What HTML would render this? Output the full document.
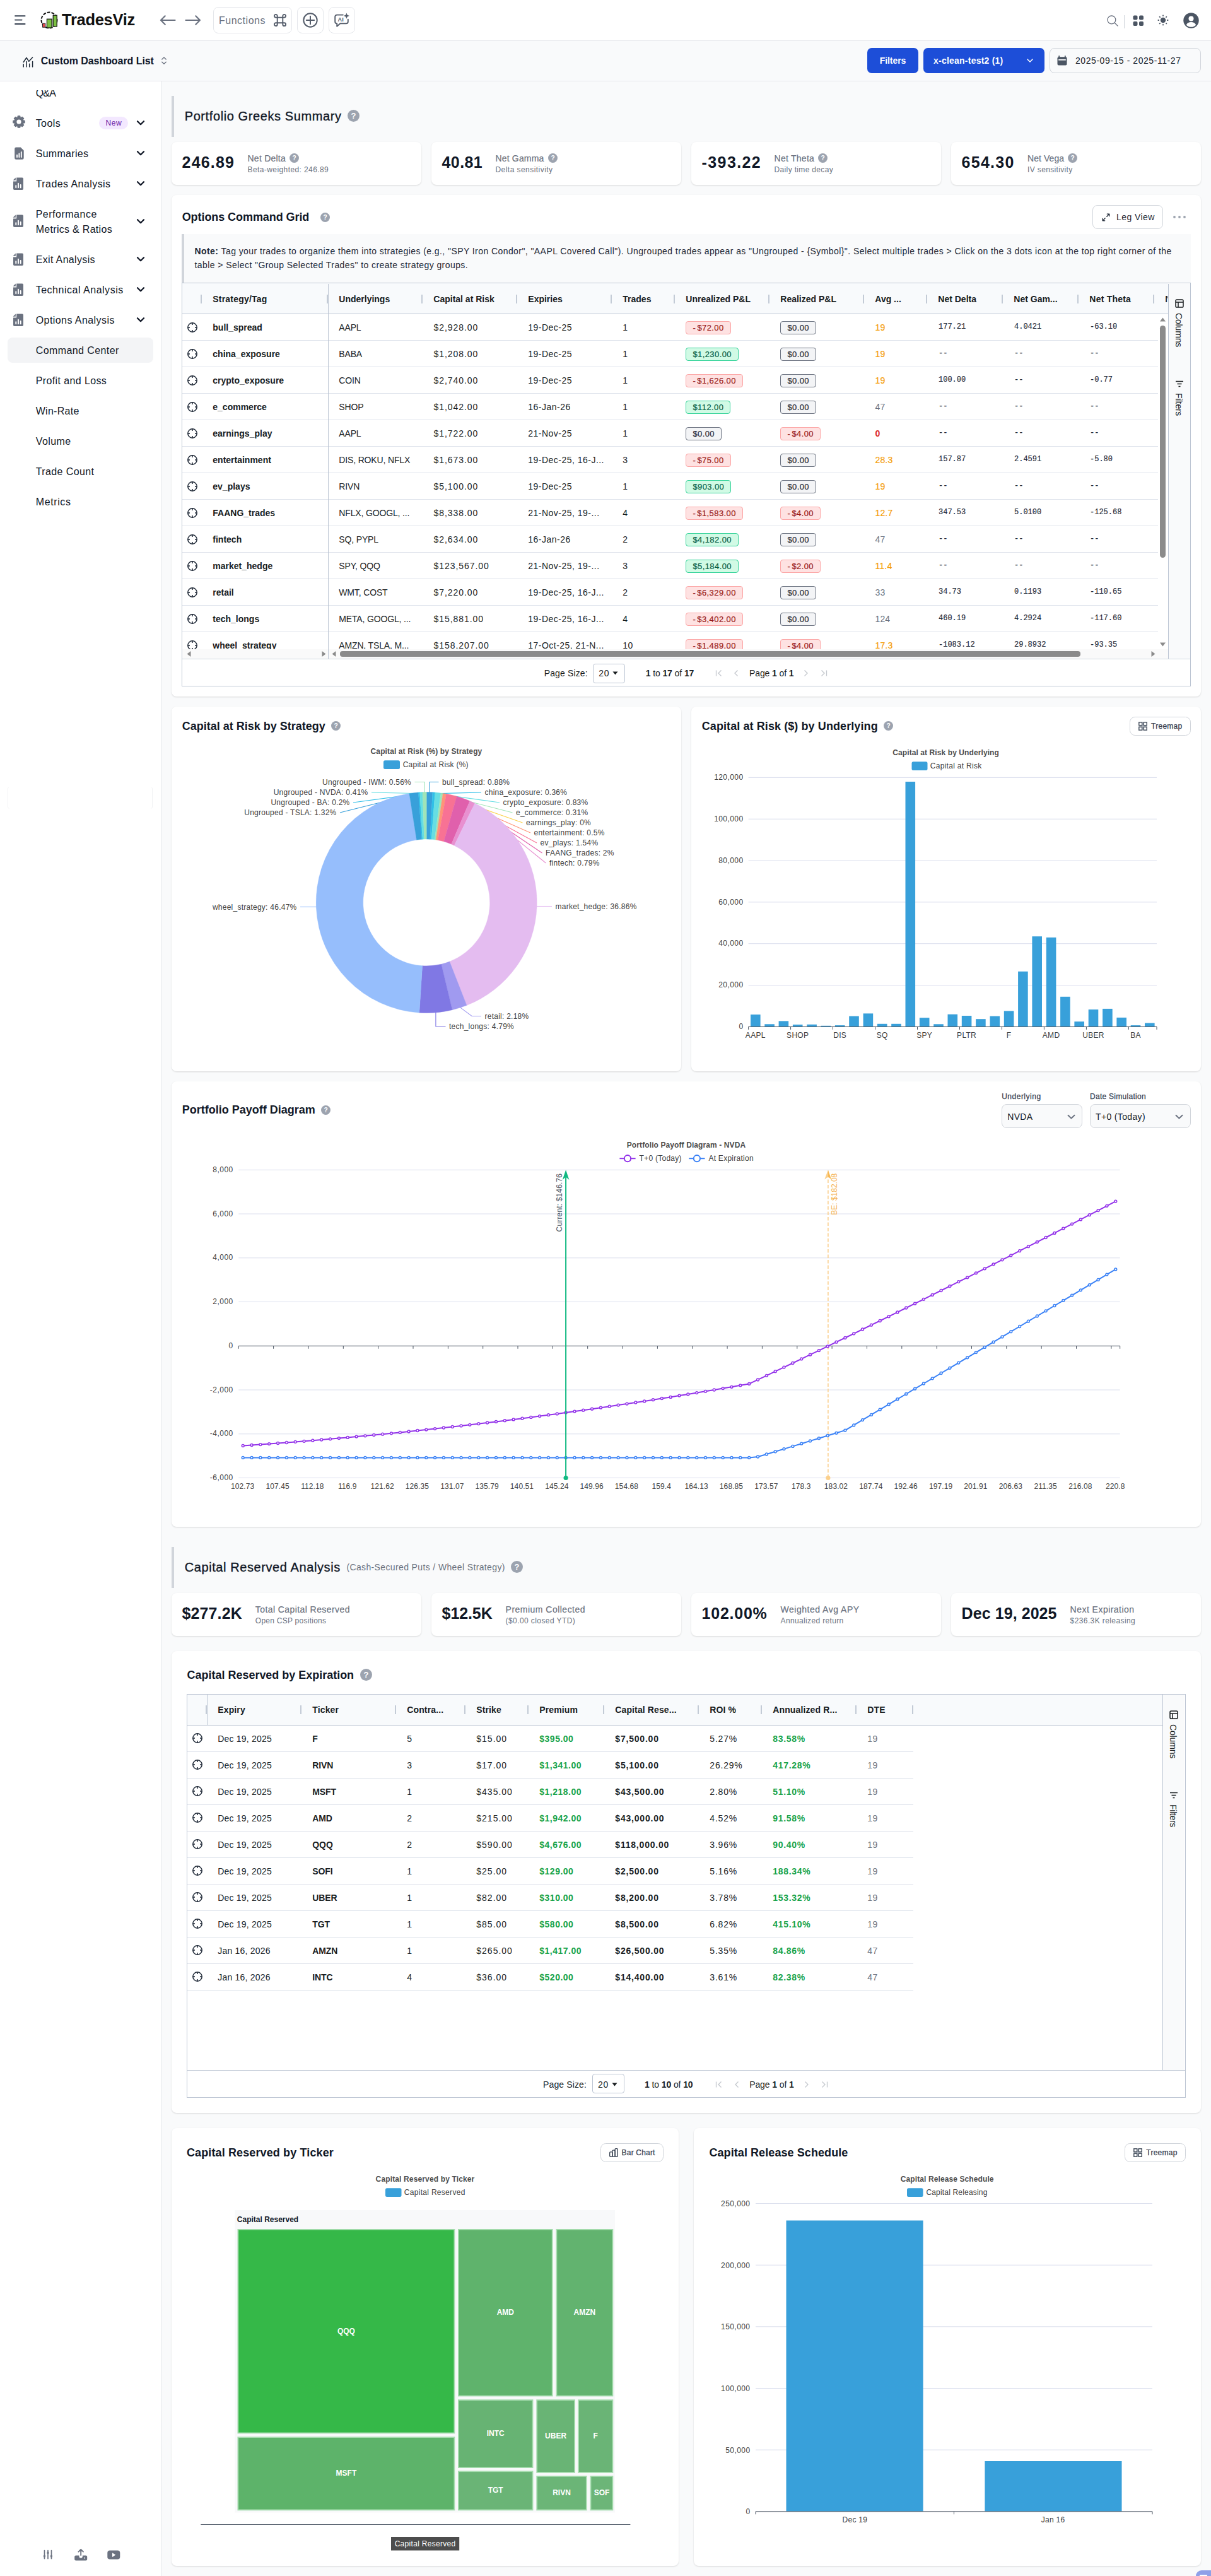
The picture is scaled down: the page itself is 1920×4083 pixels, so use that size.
<!DOCTYPE html>
<html lang="en"><head><meta charset="utf-8"><title>TradesViz - Options Command Center</title>
<style>
html,body{margin:0;padding:0}
body{width:1920px;height:4083px;position:relative;overflow:hidden;background:#f9fafb;font-family:"Liberation Sans",sans-serif;color:#111827;-webkit-font-smoothing:antialiased}
.t{position:absolute;white-space:nowrap;margin:0}
b{font-weight:bold}
svg{overflow:visible}
svg text{font-family:"Liberation Sans",sans-serif}
</style></head>
<body>
<div style="position:absolute;left:0.0px;top:0.0px;width:1920.0px;height:65.0px;background:#fff;border-bottom:1px solid #e5e7eb;box-sizing:border-box;"></div>
<svg style="position:absolute;left:22.0px;top:22.0px;" width="20" height="20" viewBox="0 0 20 20"><path d="M2 3.2h15.6M2 9.6h10.6M2 16h15.6" stroke="#374151" stroke-width="1.9" stroke-linecap="round" fill="none"/></svg>
<svg style="position:absolute;left:63.0px;top:16.6px;" width="30" height="30" viewBox="0 0 30 30"><circle cx="15" cy="15" r="12.500" fill="#fff" stroke="#111" stroke-width="2" stroke-dasharray="4.800 2.100"/><rect x="4.600" y="20.200" width="4.200" height="6" fill="#e5484d" stroke="#111" stroke-width="0.900"/><rect x="11.400" y="13.200" width="7.700" height="13.800" fill="#7cc142" stroke="#111" stroke-width="1.200"/><rect x="21.200" y="7.200" width="6" height="17.800" fill="#7cc142" stroke="#111" stroke-width="1.200"/></svg>
<div class="t" style="top:16.2px;line-height:30px;font-size:25.5px;font-weight:bold;color:#111;letter-spacing:-0.29px;left:98.0px;">TradesViz</div>
<svg style="position:absolute;left:252.0px;top:20.0px;" width="28" height="24" viewBox="0 0 28 24"><path d="M25.500 12H3M9.700 5.300L3 12l6.700 6.700" stroke="#6b7280" stroke-width="2.200" fill="none" stroke-linecap="round" stroke-linejoin="round"/></svg>
<svg style="position:absolute;left:292.0px;top:20.0px;" width="28" height="24" viewBox="0 0 28 24"><path d="M2.500 12H25M18.300 5.300L25 12l-6.700 6.700" stroke="#6b7280" stroke-width="2.200" fill="none" stroke-linecap="round" stroke-linejoin="round"/></svg>
<div style="position:absolute;left:338.0px;top:11.0px;width:125.0px;height:42.0px;border:1px solid #e5e7eb;border-radius:8px;box-sizing:border-box;background:#fff;"></div>
<div class="t" style="top:22.5px;line-height:20px;font-size:16px;color:#6b7280;letter-spacing:0.51px;left:347.0px;">Functions</div>
<svg style="position:absolute;left:434.0px;top:22.0px;" width="20" height="20" viewBox="0 0 20 20"><path d="M5.700 3.300a2.400 2.400 0 1 0-2.400 2.400H16.700a2.400 2.400 0 1 0-2.400-2.400V16.700a2.400 2.400 0 1 0 2.400-2.400H3.300a2.400 2.400 0 1 0 2.400 2.400Z" fill="none" stroke="#555d6b" stroke-width="1.900" stroke-linejoin="round"/></svg>
<div style="position:absolute;left:471.0px;top:11.0px;width:42.0px;height:42.0px;border:1px solid #e5e7eb;border-radius:8px;box-sizing:border-box;background:#fff;"></div>
<svg style="position:absolute;left:480.0px;top:19.8px;" width="24" height="24" viewBox="0 0 24 24"><circle cx="12" cy="12" r="10.700" fill="none" stroke="#555d6b" stroke-width="2"/><path d="M12 5.800v12.400M5.800 12h12.400" stroke="#555d6b" stroke-width="2" stroke-linecap="round"/></svg>
<div style="position:absolute;left:521.0px;top:11.0px;width:42.0px;height:42.0px;border:1px solid #e5e7eb;border-radius:8px;box-sizing:border-box;background:#fff;"></div>
<svg style="position:absolute;left:529.0px;top:20.0px;" width="26" height="26" viewBox="0 0 26 26"><path d="M14.800 3.600H5.200A3 3 0 0 0 2.200 6.600V14.300A3 3 0 0 0 5.200 17.300V21.700L10.400 17.300H19.800A3 3 0 0 0 22.800 14.300V10.600" fill="none" stroke="#555d6b" stroke-width="1.900" stroke-linejoin="round" stroke-linecap="round"/><path d="M20.400 0.400l1.300 3.400 3.400 1.300-3.400 1.300-1.300 3.400-1.300-3.400-3.400-1.300 3.400-1.300z" fill="#555d6b"/><text x="11.100" y="14.400" text-anchor="middle" font-family="Liberation Sans, sans-serif" font-weight="bold" font-size="9.200" fill="#555d6b">AI</text></svg>
<svg style="position:absolute;left:1754.5px;top:23.5px;" width="20" height="20" viewBox="0 0 20 20"><circle cx="7.400" cy="7.400" r="6.400" fill="none" stroke="#6b7280" stroke-width="1.300"/><path d="M12.300 12.300L17 17" stroke="#6b7280" stroke-width="1.300" stroke-linecap="round"/></svg>
<div style="position:absolute;left:1782.0px;top:24.0px;width:1.0px;height:21.0px;background:#d1d5db;"></div>
<svg style="position:absolute;left:1795.5px;top:23.5px;" width="18" height="18" viewBox="0 0 18 18"><g fill="#4b5563"><rect x="0.500" y="0.500" width="7" height="7" rx="2"/><rect x="10" y="0.500" width="7" height="7" rx="2"/><rect x="0.500" y="10" width="7" height="7" rx="2"/><rect x="10" y="10" width="7" height="7" rx="2"/></g></svg>
<svg style="position:absolute;left:1834.2px;top:22.0px;" width="20" height="20" viewBox="0 0 20 20"><circle cx="10" cy="10" r="4.200" fill="#4b5563"/><g stroke="#4b5563" stroke-width="1.800" stroke-linecap="round"><path d="M16.90 10.00L17.60 10.00"/><path d="M14.88 14.88L15.37 15.37"/><path d="M10.00 16.90L10.00 17.60"/><path d="M5.12 14.88L4.63 15.37"/><path d="M3.10 10.00L2.40 10.00"/><path d="M5.12 5.12L4.63 4.63"/><path d="M10.00 3.10L10.00 2.40"/><path d="M14.88 5.12L15.37 4.63"/></g></svg>
<svg style="position:absolute;left:1875.5px;top:19.5px;" width="25" height="25" viewBox="0 0 25 25"><circle cx="12.500" cy="12.500" r="12.200" fill="#4b5563"/><circle cx="12.500" cy="9.600" r="4" fill="#fff"/><path d="M4.800 19.400c1.600-3 4.400-4.300 7.700-4.300s6.100 1.300 7.700 4.300a10.300 10.300 0 0 1-15.400 0z" fill="#fff"/></svg>
<div style="position:absolute;left:0.0px;top:65.0px;width:1920.0px;height:64.0px;background:#f9fafb;border-bottom:1px solid #e5e7eb;box-sizing:border-box;"></div>
<svg style="position:absolute;left:35.5px;top:89.5px;" width="17" height="17" viewBox="0 0 17 17"><g stroke="#1f2937" stroke-width="1.500" fill="none" stroke-linecap="round" stroke-linejoin="round"><path d="M1.200 8.500L6 1.500 9.800 7.300 15.600 1"/><path d="M1.200 11.800v4.100M6 7.600v8.300M10.700 11.200v4.700M15.600 7.600v8.300"/></g></svg>
<div class="t" style="top:87.0px;line-height:20px;font-size:16px;font-weight:bold;color:#0f172a;letter-spacing:-0.06px;left:64.7px;">Custom Dashboard List</div>
<svg style="position:absolute;left:254.0px;top:89.0px;" width="12" height="15" viewBox="0 0 12 15"><path d="M2.800 5L6 2l3.200 3M2.800 9.200L6 12.200l3.200-3" stroke="#6b7280" stroke-width="1.400" fill="none" stroke-linecap="round" stroke-linejoin="round"/></svg>
<div style="position:absolute;left:1375.0px;top:76.0px;width:81.0px;height:40.0px;background:#1d4ed8;border-radius:7px;"></div>
<div class="t" style="top:86.0px;line-height:20px;font-size:14px;font-weight:bold;color:#fff;letter-spacing:-0.07px;left:1415.5px;transform:translateX(-50%);">Filters</div>
<div style="position:absolute;left:1464.0px;top:76.0px;width:192.0px;height:40.0px;background:#1d4ed8;border-radius:7px;"></div>
<div class="t" style="top:86.0px;line-height:20px;font-size:14px;font-weight:bold;color:#fff;letter-spacing:0.23px;left:1480.0px;">x-clean-test2 (1)</div>
<svg style="position:absolute;left:1626.0px;top:90.0px;" width="14" height="12" viewBox="0 0 14 12"><path d="M3 4l4 4 4-4" stroke="#fff" stroke-width="1.500" fill="none" stroke-linecap="round" stroke-linejoin="round"/></svg>
<div style="position:absolute;left:1664.0px;top:76.0px;width:240.0px;height:40.0px;background:#f9fafb;border:1px solid #d1d5db;border-radius:8px;box-sizing:border-box;"></div>
<svg style="position:absolute;left:1675.5px;top:87.5px;" width="16" height="16" viewBox="0 0 16 16"><path d="M3.200 0.800v2M12.800 0.800v2" stroke="#4b5563" stroke-width="1.800" stroke-linecap="round"/><rect x="0.500" y="2.200" width="15" height="13.300" rx="2" fill="#4b5563"/><rect x="2.200" y="6" width="11.600" height="1.700" fill="#f9fafb"/></svg>
<div class="t" style="top:86.0px;line-height:20px;font-size:14px;letter-spacing:0.56px;left:1705.0px;">2025-09-15 - 2025-11-27</div>
<div style="position:absolute;left:0.0px;top:129.0px;width:256.0px;height:3954.0px;background:#fff;border-right:1px solid #e5e7eb;box-sizing:border-box;"></div>
<div style="position:absolute;left:0.0px;top:142.6px;width:255.0px;height:20.0px;overflow:hidden;"><div class="t" style="top:-4.8px;line-height:20px;font-size:16px;letter-spacing:-0.76px;left:56.7px;">Q&amp;A</div></div>
<svg style="position:absolute;left:19.8px;top:183.0px;" width="20" height="20" viewBox="0 0 20 20"><polygon points="16.75,7.81 19.14,8.26 19.14,11.74 16.75,12.19 16.33,13.22 17.69,15.23 15.23,17.69 13.22,16.33 12.19,16.75 11.74,19.14 8.26,19.14 7.81,16.75 6.78,16.33 4.77,17.69 2.31,15.23 3.67,13.22 3.25,12.19 0.86,11.74 0.86,8.26 3.25,7.81 3.67,6.78 2.31,4.77 4.77,2.31 6.78,3.67 7.81,3.25 8.26,0.86 11.74,0.86 12.19,3.25 13.22,3.67 15.23,2.31 17.69,4.77 16.33,6.78" fill="#6b7280" stroke="#6b7280" stroke-width="1.200" stroke-linejoin="round"/><circle cx="10" cy="10" r="3.600" fill="#fff"/></svg>
<div class="t" style="top:185.5px;line-height:20px;font-size:16px;letter-spacing:0.43px;left:56.7px;">Tools</div>
<svg style="position:absolute;left:216.3px;top:189.5px;" width="14" height="10" viewBox="0 0 14 10"><path d="M2 2.300L7 7.300l5-5" stroke="#111827" stroke-width="2.300" fill="none" stroke-linecap="round" stroke-linejoin="round"/></svg>
<svg style="position:absolute;left:21.5px;top:232.8px;" width="17" height="20" viewBox="0 0 17 20"><path d="M1.200 2.800a2.300 2.300 0 0 1 2.300-2.300h7.200l5 5v12a2.300 2.300 0 0 1-2.300 2.300H3.500a2.300 2.300 0 0 1-2.300-2.300z" fill="#6b7280"/><g stroke="#fff" stroke-width="1.900" stroke-linecap="round"><path d="M5 16v-3.200M8.400 16v-5.600M11.800 16v-8"/></g></svg>
<div class="t" style="top:234.3px;line-height:20px;font-size:16px;letter-spacing:0.29px;left:56.7px;">Summaries</div>
<svg style="position:absolute;left:216.3px;top:238.3px;" width="14" height="10" viewBox="0 0 14 10"><path d="M2 2.300L7 7.300l5-5" stroke="#111827" stroke-width="2.300" fill="none" stroke-linecap="round" stroke-linejoin="round"/></svg>
<svg style="position:absolute;left:20.0px;top:280.7px;" width="18" height="21" viewBox="0 0 18 21"><path d="M6.200 0.500h9a1.800 1.800 0 0 1 1.800 1.800v16a1.800 1.800 0 0 1-1.800 1.800H2.800a1.800 1.800 0 0 1-1.800-1.800V6.500h5.200z" fill="#6b7280"/><path d="M0.600 4.800L4.800 0.500v4.300z" fill="#6b7280"/><g stroke="#fff" stroke-width="1.900" stroke-linecap="round"><path d="M5.300 16.300v-3.200M9 16.300v-6.500M12.700 16.300v-4.300"/></g></svg>
<div class="t" style="top:282.3px;line-height:20px;font-size:16px;letter-spacing:0.43px;left:56.7px;">Trades Analysis</div>
<svg style="position:absolute;left:216.3px;top:286.3px;" width="14" height="10" viewBox="0 0 14 10"><path d="M2 2.300L7 7.300l5-5" stroke="#111827" stroke-width="2.300" fill="none" stroke-linecap="round" stroke-linejoin="round"/></svg>
<svg style="position:absolute;left:20.0px;top:340.4px;" width="18" height="21" viewBox="0 0 18 21"><path d="M6.200 0.500h9a1.800 1.800 0 0 1 1.800 1.800v16a1.800 1.800 0 0 1-1.800 1.800H2.800a1.800 1.800 0 0 1-1.800-1.800V6.500h5.200z" fill="#6b7280"/><path d="M0.600 4.800L4.800 0.500v4.300z" fill="#6b7280"/><g stroke="#fff" stroke-width="1.900" stroke-linecap="round"><path d="M5.300 16.300v-3.200M9 16.300v-6.500M12.700 16.300v-4.300"/></g></svg>
<div class="t" style="top:330.2px;line-height:20px;font-size:16px;letter-spacing:0.50px;left:56.7px;">Performance</div>
<div class="t" style="top:354.0px;line-height:20px;font-size:16px;letter-spacing:0.30px;left:56.7px;">Metrics &amp; Ratios</div>
<svg style="position:absolute;left:216.3px;top:345.5px;" width="14" height="10" viewBox="0 0 14 10"><path d="M2 2.300L7 7.300l5-5" stroke="#111827" stroke-width="2.300" fill="none" stroke-linecap="round" stroke-linejoin="round"/></svg>
<svg style="position:absolute;left:20.0px;top:400.7px;" width="18" height="21" viewBox="0 0 18 21"><path d="M6.200 0.500h9a1.800 1.800 0 0 1 1.800 1.800v16a1.800 1.800 0 0 1-1.800 1.800H2.800a1.800 1.800 0 0 1-1.800-1.800V6.500h5.200z" fill="#6b7280"/><path d="M0.600 4.800L4.800 0.500v4.300z" fill="#6b7280"/><g stroke="#fff" stroke-width="1.900" stroke-linecap="round"><path d="M5.300 16.300v-3.200M9 16.300v-6.500M12.700 16.300v-4.300"/></g></svg>
<div class="t" style="top:402.3px;line-height:20px;font-size:16px;letter-spacing:0.34px;left:56.7px;">Exit Analysis</div>
<svg style="position:absolute;left:216.3px;top:406.3px;" width="14" height="10" viewBox="0 0 14 10"><path d="M2 2.300L7 7.300l5-5" stroke="#111827" stroke-width="2.300" fill="none" stroke-linecap="round" stroke-linejoin="round"/></svg>
<svg style="position:absolute;left:20.0px;top:448.7px;" width="18" height="21" viewBox="0 0 18 21"><path d="M6.200 0.500h9a1.800 1.800 0 0 1 1.800 1.800v16a1.800 1.800 0 0 1-1.800 1.800H2.800a1.800 1.800 0 0 1-1.800-1.800V6.500h5.200z" fill="#6b7280"/><path d="M0.600 4.800L4.800 0.500v4.300z" fill="#6b7280"/><g stroke="#fff" stroke-width="1.900" stroke-linecap="round"><path d="M5.300 16.300v-3.200M9 16.300v-6.500M12.700 16.300v-4.300"/></g></svg>
<div class="t" style="top:450.3px;line-height:20px;font-size:16px;letter-spacing:0.51px;left:56.7px;">Technical Analysis</div>
<svg style="position:absolute;left:216.3px;top:454.3px;" width="14" height="10" viewBox="0 0 14 10"><path d="M2 2.300L7 7.300l5-5" stroke="#111827" stroke-width="2.300" fill="none" stroke-linecap="round" stroke-linejoin="round"/></svg>
<svg style="position:absolute;left:20.0px;top:496.7px;" width="18" height="21" viewBox="0 0 18 21"><path d="M6.200 0.500h9a1.800 1.800 0 0 1 1.800 1.800v16a1.800 1.800 0 0 1-1.800 1.800H2.800a1.800 1.800 0 0 1-1.800-1.800V6.500h5.200z" fill="#6b7280"/><path d="M0.600 4.800L4.800 0.500v4.300z" fill="#6b7280"/><g stroke="#fff" stroke-width="1.900" stroke-linecap="round"><path d="M5.300 16.300v-3.200M9 16.300v-6.500M12.700 16.300v-4.300"/></g></svg>
<div class="t" style="top:498.3px;line-height:20px;font-size:16px;letter-spacing:0.43px;left:56.7px;">Options Analysis</div>
<svg style="position:absolute;left:216.3px;top:502.3px;" width="14" height="10" viewBox="0 0 14 10"><path d="M2 2.300L7 7.300l5-5" stroke="#111827" stroke-width="2.300" fill="none" stroke-linecap="round" stroke-linejoin="round"/></svg>
<div style="position:absolute;left:157.0px;top:185.0px;width:46.0px;height:20.0px;background:#f3e8ff;border-radius:10px;"></div>
<div class="t" style="top:185.0px;line-height:20px;font-size:12px;color:#6b21a8;letter-spacing:0.60px;left:180.3px;transform:translateX(-50%);font-weight:normal;">New</div>
<div style="position:absolute;left:12.0px;top:535.0px;width:231.0px;height:40.0px;background:#f3f4f6;border-radius:8px;"></div>
<div class="t" style="top:546.2px;line-height:20px;font-size:16px;letter-spacing:0.41px;left:56.7px;">Command Center</div>
<div class="t" style="top:594.2px;line-height:20px;font-size:16px;letter-spacing:0.39px;left:56.7px;">Profit and Loss</div>
<div class="t" style="top:642.1px;line-height:20px;font-size:16px;letter-spacing:0.29px;left:56.7px;">Win-Rate</div>
<div class="t" style="top:690.1px;line-height:20px;font-size:16px;letter-spacing:0.42px;left:56.7px;">Volume</div>
<div class="t" style="top:738.0px;line-height:20px;font-size:16px;letter-spacing:0.40px;left:56.7px;">Trade Count</div>
<div class="t" style="top:786.0px;line-height:20px;font-size:16px;letter-spacing:0.62px;left:56.7px;">Metrics</div>
<div style="position:absolute;left:12.0px;top:1247.0px;width:230.0px;height:35.0px;border-left:1px solid #f1f2f4;border-right:1px solid #f1f2f4;border-radius:4px;box-sizing:border-box;"></div>
<svg style="position:absolute;left:68.0px;top:4041.0px;" width="16" height="16" viewBox="0 0 16 16"><g stroke="#6b7280" stroke-width="1.700" stroke-linecap="round"><path d="M2.500 1.500v13M8 1.500v13M13.500 1.500v13"/></g><g fill="#6b7280"><rect x="1" y="9" width="3" height="3.400" rx="0.800"/><rect x="6.500" y="3.600" width="3" height="3.400" rx="0.800"/><rect x="12" y="9" width="3" height="3.400" rx="0.800"/></g></svg>
<svg style="position:absolute;left:117.5px;top:4039.0px;" width="21" height="20" viewBox="0 0 21 20"><path d="M10.200 11V2.200M6.400 5.600l3.800-3.800 3.800 3.800" stroke="#6b7280" stroke-width="1.900" fill="none" stroke-linecap="round" stroke-linejoin="round"/><path d="M2.200 11.500h5.300v1.200a2.700 2.700 0 0 0 5.400 0v-1.200h5.300a2 2 0 0 1 2 2v4a2 2 0 0 1-2 2h-16a2 2 0 0 1-2-2v-4a2 2 0 0 1 2-2z" fill="#6b7280"/><circle cx="16" cy="15.600" r="1" fill="#fff"/></svg>
<svg style="position:absolute;left:169.8px;top:4041.5px;" width="21" height="15" viewBox="0 0 21 15"><rect x="0.300" y="0.600" width="20" height="14" rx="3.800" fill="#6b7280"/><path d="M8 4.300l5.400 3.300L8 10.900z" fill="#fff"/></svg>
<div style="position:absolute;left:272.0px;top:152.0px;width:4.0px;height:65.0px;background:#d1d5db;"></div>
<div class="t" style="top:169.5px;line-height:28px;font-size:20px;letter-spacing:0.60px;left:292.7px;-webkit-text-stroke:0.35px #111827;">Portfolio Greeks Summary</div>
<svg style="position:absolute;left:550.7px;top:174.3px;" width="19" height="19" viewBox="0 0 19 19"><circle cx="9.5" cy="9.5" r="9.5" fill="#9ca3af"/><text x="9.5" y="14.15" text-anchor="middle" font-family="Liberation Sans, sans-serif" font-weight="bold" font-size="12.9" fill="#fff">?</text></svg>
<div style="position:absolute;left:272.0px;top:225.0px;width:396.0px;height:68.0px;background:#fff;border-radius:8px;box-shadow:0 1px 3px rgba(0,0,0,.09),0 1px 2px rgba(0,0,0,.05);"></div>
<div class="t" style="top:241.3px;line-height:32px;font-size:25px;font-weight:bold;letter-spacing:1.16px;left:288.6px;">246.89</div>
<div class="t" style="top:241.0px;line-height:20px;font-size:14px;color:#6b7280;letter-spacing:0.24px;left:392.5px;-webkit-text-stroke:0.2px #6b7280;">Net Delta</div>
<svg style="position:absolute;left:459.0px;top:243.1px;" width="15" height="15" viewBox="0 0 15 15"><circle cx="7.5" cy="7.5" r="7.5" fill="#9ca3af"/><text x="7.5" y="11.17" text-anchor="middle" font-family="Liberation Sans, sans-serif" font-weight="bold" font-size="10.2" fill="#fff">?</text></svg>
<div class="t" style="top:261.0px;line-height:16px;font-size:12px;color:#6b7280;letter-spacing:0.41px;left:392.5px;">Beta-weighted: 246.89</div>
<div style="position:absolute;left:684.0px;top:225.0px;width:396.0px;height:68.0px;background:#fff;border-radius:8px;box-shadow:0 1px 3px rgba(0,0,0,.09),0 1px 2px rgba(0,0,0,.05);"></div>
<div class="t" style="top:241.3px;line-height:32px;font-size:25px;font-weight:bold;letter-spacing:0.37px;left:700.6px;">40.81</div>
<div class="t" style="top:241.0px;line-height:20px;font-size:14px;color:#6b7280;letter-spacing:0.17px;left:785.5px;-webkit-text-stroke:0.2px #6b7280;">Net Gamma</div>
<svg style="position:absolute;left:868.5px;top:243.1px;" width="15" height="15" viewBox="0 0 15 15"><circle cx="7.5" cy="7.5" r="7.5" fill="#9ca3af"/><text x="7.5" y="11.17" text-anchor="middle" font-family="Liberation Sans, sans-serif" font-weight="bold" font-size="10.2" fill="#fff">?</text></svg>
<div class="t" style="top:261.0px;line-height:16px;font-size:12px;color:#6b7280;letter-spacing:0.45px;left:785.5px;">Delta sensitivity</div>
<div style="position:absolute;left:1096.0px;top:225.0px;width:396.0px;height:68.0px;background:#fff;border-radius:8px;box-shadow:0 1px 3px rgba(0,0,0,.09),0 1px 2px rgba(0,0,0,.05);"></div>
<div class="t" style="top:241.3px;line-height:32px;font-size:25px;font-weight:bold;letter-spacing:1.39px;left:1112.6px;">-393.22</div>
<div class="t" style="top:241.0px;line-height:20px;font-size:14px;color:#6b7280;letter-spacing:0.25px;left:1227.6px;-webkit-text-stroke:0.2px #6b7280;">Net Theta</div>
<svg style="position:absolute;left:1297.1px;top:243.1px;" width="15" height="15" viewBox="0 0 15 15"><circle cx="7.5" cy="7.5" r="7.5" fill="#9ca3af"/><text x="7.5" y="11.17" text-anchor="middle" font-family="Liberation Sans, sans-serif" font-weight="bold" font-size="10.2" fill="#fff">?</text></svg>
<div class="t" style="top:261.0px;line-height:16px;font-size:12px;color:#6b7280;letter-spacing:0.34px;left:1227.6px;">Daily time decay</div>
<div style="position:absolute;left:1508.0px;top:225.0px;width:396.0px;height:68.0px;background:#fff;border-radius:8px;box-shadow:0 1px 3px rgba(0,0,0,.09),0 1px 2px rgba(0,0,0,.05);"></div>
<div class="t" style="top:241.3px;line-height:32px;font-size:25px;font-weight:bold;letter-spacing:1.26px;left:1524.6px;">654.30</div>
<div class="t" style="top:241.0px;line-height:20px;font-size:14px;color:#6b7280;letter-spacing:0.05px;left:1629.1px;-webkit-text-stroke:0.2px #6b7280;">Net Vega</div>
<svg style="position:absolute;left:1693.1px;top:243.1px;" width="15" height="15" viewBox="0 0 15 15"><circle cx="7.5" cy="7.5" r="7.5" fill="#9ca3af"/><text x="7.5" y="11.17" text-anchor="middle" font-family="Liberation Sans, sans-serif" font-weight="bold" font-size="10.2" fill="#fff">?</text></svg>
<div class="t" style="top:261.0px;line-height:16px;font-size:12px;color:#6b7280;letter-spacing:0.34px;left:1629.1px;">IV sensitivity</div>
<div style="position:absolute;left:272.0px;top:309.0px;width:1632.0px;height:795.0px;background:#fff;border-radius:8px;box-shadow:0 1px 3px rgba(0,0,0,.09),0 1px 2px rgba(0,0,0,.05);"></div>
<div class="t" style="top:329.5px;line-height:28px;font-size:18px;font-weight:bold;letter-spacing:-0.07px;left:288.7px;">Options Command Grid</div>
<svg style="position:absolute;left:507.7px;top:336.5px;" width="15" height="15" viewBox="0 0 15 15"><circle cx="7.5" cy="7.5" r="7.5" fill="#9ca3af"/><text x="7.5" y="11.17" text-anchor="middle" font-family="Liberation Sans, sans-serif" font-weight="bold" font-size="10.2" fill="#fff">?</text></svg>
<div style="position:absolute;left:1732.0px;top:325.3px;width:112.0px;height:37.3px;border:1px solid #d1d5db;border-radius:8px;box-sizing:border-box;background:#fff;"></div>
<svg style="position:absolute;left:1746.5px;top:337.5px;" width="13" height="13" viewBox="0 0 13 13"><g stroke="#1f2937" stroke-width="1.300" fill="none" stroke-linecap="round" stroke-linejoin="round"><path d="M7.800 5.200L11.800 1.200M8.300 1.200h3.500v3.500M5.200 7.800L1.200 11.800M4.700 11.800H1.200V8.300"/></g></svg>
<div class="t" style="top:334.0px;line-height:20px;font-size:14px;color:#1f2937;letter-spacing:0.42px;left:1770.0px;">Leg View</div>
<svg style="position:absolute;left:1859.0px;top:341.0px;" width="22" height="6" viewBox="0 0 22 6"><g fill="#9ca3af"><circle cx="3" cy="3" r="1.900"/><circle cx="11" cy="3" r="1.900"/><circle cx="19" cy="3" r="1.900"/></g></svg>
<div style="position:absolute;left:288.0px;top:371.3px;width:1600.0px;height:77.2px;background:#f9fafb;border-left:4px solid #d1d5db;box-sizing:border-box;"></div>
<div class="t" style="top:388.0px;line-height:20px;font-size:14px;color:#1f2937;letter-spacing:0.43px;left:308.5px;"><b>Note:</b> Tag your trades to organize them into strategies (e.g., "SPY Iron Condor", "AAPL Covered Call"). Ungrouped trades appear as "Ungrouped - {Symbol}". Select multiple trades &gt; Click on the 3 dots icon at the top right corner of the</div>
<div class="t" style="top:410.3px;line-height:20px;font-size:14px;color:#1f2937;letter-spacing:0.43px;left:308.5px;">table &gt; Select "Group Selected Trades" to create strategy groups.</div>
<div style="position:absolute;left:288.0px;top:448.4px;width:1600.0px;height:639.6px;border:1px solid #bcc5d3;box-sizing:border-box;background:#fff;"></div>
<div style="position:absolute;left:289.0px;top:449.4px;width:1562.5px;height:48.6px;background:#f8fafc;border-bottom:1px solid #bcc5d3;box-sizing:border-box;"></div>
<div class="t" style="top:464.3px;line-height:20px;font-size:14px;font-weight:bold;color:#181d1f;letter-spacing:0.20px;left:337.3px;">Strategy/Tag</div>
<div class="t" style="top:464.3px;line-height:20px;font-size:14px;font-weight:bold;color:#181d1f;left:537.3px;">Underlyings</div>
<div class="t" style="top:464.3px;line-height:20px;font-size:14px;font-weight:bold;color:#181d1f;left:687.3px;">Capital at Risk</div>
<div class="t" style="top:464.3px;line-height:20px;font-size:14px;font-weight:bold;color:#181d1f;left:837.3px;">Expiries</div>
<div class="t" style="top:464.3px;line-height:20px;font-size:14px;font-weight:bold;color:#181d1f;left:987.3px;">Trades</div>
<div class="t" style="top:464.3px;line-height:20px;font-size:14px;font-weight:bold;color:#181d1f;left:1087.3px;">Unrealized P&amp;L</div>
<div class="t" style="top:464.3px;line-height:20px;font-size:14px;font-weight:bold;color:#181d1f;left:1237.3px;">Realized P&amp;L</div>
<div class="t" style="top:464.3px;line-height:20px;font-size:14px;font-weight:bold;color:#181d1f;left:1387.3px;">Avg ...</div>
<div class="t" style="top:464.3px;line-height:20px;font-size:14px;font-weight:bold;color:#181d1f;left:1487.3px;">Net Delta</div>
<div class="t" style="top:464.3px;line-height:20px;font-size:14px;font-weight:bold;color:#181d1f;left:1607.3px;">Net Gam...</div>
<div class="t" style="top:464.3px;line-height:20px;font-size:14px;font-weight:bold;color:#181d1f;letter-spacing:0.22px;left:1727.3px;">Net Theta</div>
<div style="position:absolute;left:318.0px;top:467.0px;width:2.0px;height:14.0px;background:#c3cbd6;"></div>
<div style="position:absolute;left:518.0px;top:467.0px;width:2.0px;height:14.0px;background:#c3cbd6;"></div>
<div style="position:absolute;left:668.0px;top:467.0px;width:2.0px;height:14.0px;background:#c3cbd6;"></div>
<div style="position:absolute;left:818.0px;top:467.0px;width:2.0px;height:14.0px;background:#c3cbd6;"></div>
<div style="position:absolute;left:968.0px;top:467.0px;width:2.0px;height:14.0px;background:#c3cbd6;"></div>
<div style="position:absolute;left:1068.0px;top:467.0px;width:2.0px;height:14.0px;background:#c3cbd6;"></div>
<div style="position:absolute;left:1218.0px;top:467.0px;width:2.0px;height:14.0px;background:#c3cbd6;"></div>
<div style="position:absolute;left:1368.0px;top:467.0px;width:2.0px;height:14.0px;background:#c3cbd6;"></div>
<div style="position:absolute;left:1468.0px;top:467.0px;width:2.0px;height:14.0px;background:#c3cbd6;"></div>
<div style="position:absolute;left:1588.0px;top:467.0px;width:2.0px;height:14.0px;background:#c3cbd6;"></div>
<div style="position:absolute;left:1708.0px;top:467.0px;width:2.0px;height:14.0px;background:#c3cbd6;"></div>
<div style="position:absolute;left:1828.0px;top:467.0px;width:2.0px;height:14.0px;background:#c3cbd6;"></div>
<div style="position:absolute;left:520.0px;top:450.0px;width:1.0px;height:48.0px;background:#bcc5d3;"></div>
<div style="position:absolute;left:1830.0px;top:450.0px;width:21.0px;height:47.0px;overflow:hidden;"><div class="t" style="top:14.3px;line-height:20px;font-size:14px;font-weight:bold;color:#181d1f;left:17.3px;">Net Vega</div></div>
<div style="position:absolute;left:288.0px;top:498.0px;width:1600.0px;height:531.0px;overflow:hidden;"><div style="position:absolute;left:1.0px;top:41.0px;width:1547.0px;height:1.0px;background:#dde2eb;"></div>
<svg style="position:absolute;left:7.7px;top:11.5px;" width="18" height="18" viewBox="0 0 18 18"><circle cx="9" cy="9" r="7.200" fill="none" stroke="#1f2937" stroke-width="1.500"/><path d="M9 1.800v3.200M9 13v3.200M1.800 9h3.200M13 9h3.200" stroke="#1f2937" stroke-width="1.500"/></svg>
<div class="t" style="top:11.3px;line-height:20px;font-size:14px;font-weight:bold;color:#181d1f;left:49.3px;">bull_spread</div>
<div class="t" style="top:11.3px;line-height:20px;font-size:14px;color:#181d1f;letter-spacing:-0.15px;left:249.3px;">AAPL</div>
<div class="t" style="top:11.3px;line-height:20px;font-size:14px;color:#181d1f;letter-spacing:0.93px;left:399.6px;">$2,928.00</div>
<div class="t" style="top:11.3px;line-height:20px;font-size:14px;color:#181d1f;letter-spacing:0.48px;left:549.3px;">19-Dec-25</div>
<div class="t" style="top:11.3px;line-height:20px;font-size:14px;color:#181d1f;letter-spacing:0.50px;left:699.3px;">1</div>
<div style="position:absolute;left:799.0px;top:11.1px;width:71.6px;height:21.0px;background:#fee2e2;border:1px solid #fca5a5;border-radius:4px;box-sizing:border-box;"></div><div class="t" style="top:11.6px;line-height:20px;font-size:13px;color:#991b1b;letter-spacing:0.40px;left:835.0px;transform:translateX(-50%);-webkit-text-stroke:0.2px #991b1b;"><span style="letter-spacing:2.6px">-</span>$72.00</div>
<div style="position:absolute;left:949.0px;top:11.1px;width:57.0px;height:21.0px;background:#f3f4f6;border:1px solid #6b7280;border-radius:4px;box-sizing:border-box;"></div><div class="t" style="top:11.6px;line-height:20px;font-size:13px;color:#1f2937;letter-spacing:0.40px;left:977.7px;transform:translateX(-50%);-webkit-text-stroke:0.2px #1f2937;">$0.00</div>
<div class="t" style="top:11.3px;line-height:20px;font-size:14px;color:#f59e0b;letter-spacing:0.20px;left:1099.4px;-webkit-text-stroke:0.2px #f59e0b;">19</div>
<div class="t" style="top:9.6px;line-height:20px;font-size:12px;color:#1f2937;left:1200.0px;font-family:'Liberation Mono',monospace;-webkit-text-stroke:0.15px #1f2937;">177.21</div>
<div class="t" style="top:9.6px;line-height:20px;font-size:12px;color:#1f2937;left:1320.0px;font-family:'Liberation Mono',monospace;-webkit-text-stroke:0.15px #1f2937;">4.0421</div>
<div class="t" style="top:9.6px;line-height:20px;font-size:12px;color:#1f2937;left:1440.0px;font-family:'Liberation Mono',monospace;-webkit-text-stroke:0.15px #1f2937;">-63.10</div>
<div style="position:absolute;left:1.0px;top:83.0px;width:1547.0px;height:1.0px;background:#dde2eb;"></div>
<svg style="position:absolute;left:7.7px;top:53.5px;" width="18" height="18" viewBox="0 0 18 18"><circle cx="9" cy="9" r="7.200" fill="none" stroke="#1f2937" stroke-width="1.500"/><path d="M9 1.800v3.200M9 13v3.200M1.800 9h3.200M13 9h3.200" stroke="#1f2937" stroke-width="1.500"/></svg>
<div class="t" style="top:53.3px;line-height:20px;font-size:14px;font-weight:bold;color:#181d1f;left:49.3px;">china_exposure</div>
<div class="t" style="top:53.3px;line-height:20px;font-size:14px;color:#181d1f;letter-spacing:-0.15px;left:249.3px;">BABA</div>
<div class="t" style="top:53.3px;line-height:20px;font-size:14px;color:#181d1f;letter-spacing:0.93px;left:399.6px;">$1,208.00</div>
<div class="t" style="top:53.3px;line-height:20px;font-size:14px;color:#181d1f;letter-spacing:0.48px;left:549.3px;">19-Dec-25</div>
<div class="t" style="top:53.3px;line-height:20px;font-size:14px;color:#181d1f;letter-spacing:0.50px;left:699.3px;">1</div>
<div style="position:absolute;left:799.0px;top:53.1px;width:83.9px;height:21.0px;background:#d1fae5;border:1px solid #34d399;border-radius:4px;box-sizing:border-box;"></div><div class="t" style="top:53.6px;line-height:20px;font-size:13px;color:#065f46;letter-spacing:0.40px;left:841.2px;transform:translateX(-50%);-webkit-text-stroke:0.2px #065f46;">$1,230.00</div>
<div style="position:absolute;left:949.0px;top:53.1px;width:57.0px;height:21.0px;background:#f3f4f6;border:1px solid #6b7280;border-radius:4px;box-sizing:border-box;"></div><div class="t" style="top:53.6px;line-height:20px;font-size:13px;color:#1f2937;letter-spacing:0.40px;left:977.7px;transform:translateX(-50%);-webkit-text-stroke:0.2px #1f2937;">$0.00</div>
<div class="t" style="top:53.3px;line-height:20px;font-size:14px;color:#f59e0b;letter-spacing:0.20px;left:1099.4px;-webkit-text-stroke:0.2px #f59e0b;">19</div>
<div class="t" style="top:51.6px;line-height:20px;font-size:12px;color:#1f2937;left:1200.0px;font-family:'Liberation Mono',monospace;-webkit-text-stroke:0.15px #1f2937;">--</div>
<div class="t" style="top:51.6px;line-height:20px;font-size:12px;color:#1f2937;left:1320.0px;font-family:'Liberation Mono',monospace;-webkit-text-stroke:0.15px #1f2937;">--</div>
<div class="t" style="top:51.6px;line-height:20px;font-size:12px;color:#1f2937;left:1440.0px;font-family:'Liberation Mono',monospace;-webkit-text-stroke:0.15px #1f2937;">--</div>
<div style="position:absolute;left:1.0px;top:125.0px;width:1547.0px;height:1.0px;background:#dde2eb;"></div>
<svg style="position:absolute;left:7.7px;top:95.5px;" width="18" height="18" viewBox="0 0 18 18"><circle cx="9" cy="9" r="7.200" fill="none" stroke="#1f2937" stroke-width="1.500"/><path d="M9 1.800v3.200M9 13v3.200M1.800 9h3.200M13 9h3.200" stroke="#1f2937" stroke-width="1.500"/></svg>
<div class="t" style="top:95.3px;line-height:20px;font-size:14px;font-weight:bold;color:#181d1f;left:49.3px;">crypto_exposure</div>
<div class="t" style="top:95.3px;line-height:20px;font-size:14px;color:#181d1f;letter-spacing:-0.15px;left:249.3px;">COIN</div>
<div class="t" style="top:95.3px;line-height:20px;font-size:14px;color:#181d1f;letter-spacing:0.93px;left:399.6px;">$2,740.00</div>
<div class="t" style="top:95.3px;line-height:20px;font-size:14px;color:#181d1f;letter-spacing:0.48px;left:549.3px;">19-Dec-25</div>
<div class="t" style="top:95.3px;line-height:20px;font-size:14px;color:#181d1f;letter-spacing:0.50px;left:699.3px;">1</div>
<div style="position:absolute;left:799.0px;top:95.1px;width:90.9px;height:21.0px;background:#fee2e2;border:1px solid #fca5a5;border-radius:4px;box-sizing:border-box;"></div><div class="t" style="top:95.6px;line-height:20px;font-size:13px;color:#991b1b;letter-spacing:0.40px;left:844.6px;transform:translateX(-50%);-webkit-text-stroke:0.2px #991b1b;"><span style="letter-spacing:2.6px">-</span>$1,626.00</div>
<div style="position:absolute;left:949.0px;top:95.1px;width:57.0px;height:21.0px;background:#f3f4f6;border:1px solid #6b7280;border-radius:4px;box-sizing:border-box;"></div><div class="t" style="top:95.6px;line-height:20px;font-size:13px;color:#1f2937;letter-spacing:0.40px;left:977.7px;transform:translateX(-50%);-webkit-text-stroke:0.2px #1f2937;">$0.00</div>
<div class="t" style="top:95.3px;line-height:20px;font-size:14px;color:#f59e0b;letter-spacing:0.20px;left:1099.4px;-webkit-text-stroke:0.2px #f59e0b;">19</div>
<div class="t" style="top:93.6px;line-height:20px;font-size:12px;color:#1f2937;left:1200.0px;font-family:'Liberation Mono',monospace;-webkit-text-stroke:0.15px #1f2937;">100.00</div>
<div class="t" style="top:93.6px;line-height:20px;font-size:12px;color:#1f2937;left:1320.0px;font-family:'Liberation Mono',monospace;-webkit-text-stroke:0.15px #1f2937;">--</div>
<div class="t" style="top:93.6px;line-height:20px;font-size:12px;color:#1f2937;left:1440.0px;font-family:'Liberation Mono',monospace;-webkit-text-stroke:0.15px #1f2937;">-0.77</div>
<div style="position:absolute;left:1.0px;top:167.0px;width:1547.0px;height:1.0px;background:#dde2eb;"></div>
<svg style="position:absolute;left:7.7px;top:137.5px;" width="18" height="18" viewBox="0 0 18 18"><circle cx="9" cy="9" r="7.200" fill="none" stroke="#1f2937" stroke-width="1.500"/><path d="M9 1.800v3.200M9 13v3.200M1.800 9h3.200M13 9h3.200" stroke="#1f2937" stroke-width="1.500"/></svg>
<div class="t" style="top:137.3px;line-height:20px;font-size:14px;font-weight:bold;color:#181d1f;left:49.3px;">e_commerce</div>
<div class="t" style="top:137.3px;line-height:20px;font-size:14px;color:#181d1f;letter-spacing:-0.15px;left:249.3px;">SHOP</div>
<div class="t" style="top:137.3px;line-height:20px;font-size:14px;color:#181d1f;letter-spacing:0.93px;left:399.6px;">$1,042.00</div>
<div class="t" style="top:137.3px;line-height:20px;font-size:14px;color:#181d1f;letter-spacing:0.48px;left:549.3px;">16-Jan-26</div>
<div class="t" style="top:137.3px;line-height:20px;font-size:14px;color:#181d1f;letter-spacing:0.50px;left:699.3px;">1</div>
<div style="position:absolute;left:799.0px;top:137.1px;width:71.3px;height:21.0px;background:#d1fae5;border:1px solid #34d399;border-radius:4px;box-sizing:border-box;"></div><div class="t" style="top:137.6px;line-height:20px;font-size:13px;color:#065f46;letter-spacing:0.40px;left:834.9px;transform:translateX(-50%);-webkit-text-stroke:0.2px #065f46;">$112.00</div>
<div style="position:absolute;left:949.0px;top:137.1px;width:57.0px;height:21.0px;background:#f3f4f6;border:1px solid #6b7280;border-radius:4px;box-sizing:border-box;"></div><div class="t" style="top:137.6px;line-height:20px;font-size:13px;color:#1f2937;letter-spacing:0.40px;left:977.7px;transform:translateX(-50%);-webkit-text-stroke:0.2px #1f2937;">$0.00</div>
<div class="t" style="top:137.3px;line-height:20px;font-size:14px;color:#6b7280;letter-spacing:0.20px;left:1099.4px;">47</div>
<div class="t" style="top:135.6px;line-height:20px;font-size:12px;color:#1f2937;left:1200.0px;font-family:'Liberation Mono',monospace;-webkit-text-stroke:0.15px #1f2937;">--</div>
<div class="t" style="top:135.6px;line-height:20px;font-size:12px;color:#1f2937;left:1320.0px;font-family:'Liberation Mono',monospace;-webkit-text-stroke:0.15px #1f2937;">--</div>
<div class="t" style="top:135.6px;line-height:20px;font-size:12px;color:#1f2937;left:1440.0px;font-family:'Liberation Mono',monospace;-webkit-text-stroke:0.15px #1f2937;">--</div>
<div style="position:absolute;left:1.0px;top:209.0px;width:1547.0px;height:1.0px;background:#dde2eb;"></div>
<svg style="position:absolute;left:7.7px;top:179.5px;" width="18" height="18" viewBox="0 0 18 18"><circle cx="9" cy="9" r="7.200" fill="none" stroke="#1f2937" stroke-width="1.500"/><path d="M9 1.800v3.200M9 13v3.200M1.800 9h3.200M13 9h3.200" stroke="#1f2937" stroke-width="1.500"/></svg>
<div class="t" style="top:179.3px;line-height:20px;font-size:14px;font-weight:bold;color:#181d1f;left:49.3px;">earnings_play</div>
<div class="t" style="top:179.3px;line-height:20px;font-size:14px;color:#181d1f;letter-spacing:-0.15px;left:249.3px;">AAPL</div>
<div class="t" style="top:179.3px;line-height:20px;font-size:14px;color:#181d1f;letter-spacing:0.93px;left:399.6px;">$1,722.00</div>
<div class="t" style="top:179.3px;line-height:20px;font-size:14px;color:#181d1f;letter-spacing:0.48px;left:549.3px;">21-Nov-25</div>
<div class="t" style="top:179.3px;line-height:20px;font-size:14px;color:#181d1f;letter-spacing:0.50px;left:699.3px;">1</div>
<div style="position:absolute;left:799.0px;top:179.1px;width:57.0px;height:21.0px;background:#f3f4f6;border:1px solid #6b7280;border-radius:4px;box-sizing:border-box;"></div><div class="t" style="top:179.6px;line-height:20px;font-size:13px;color:#1f2937;letter-spacing:0.40px;left:827.7px;transform:translateX(-50%);-webkit-text-stroke:0.2px #1f2937;">$0.00</div>
<div style="position:absolute;left:949.0px;top:179.1px;width:64.0px;height:21.0px;background:#fee2e2;border:1px solid #fca5a5;border-radius:4px;box-sizing:border-box;"></div><div class="t" style="top:179.6px;line-height:20px;font-size:13px;color:#991b1b;letter-spacing:0.40px;left:981.2px;transform:translateX(-50%);-webkit-text-stroke:0.2px #991b1b;"><span style="letter-spacing:2.6px">-</span>$4.00</div>
<div class="t" style="top:179.3px;line-height:20px;font-size:14px;font-weight:bold;color:#dc2626;letter-spacing:0.20px;left:1099.4px;">0</div>
<div class="t" style="top:177.6px;line-height:20px;font-size:12px;color:#1f2937;left:1200.0px;font-family:'Liberation Mono',monospace;-webkit-text-stroke:0.15px #1f2937;">--</div>
<div class="t" style="top:177.6px;line-height:20px;font-size:12px;color:#1f2937;left:1320.0px;font-family:'Liberation Mono',monospace;-webkit-text-stroke:0.15px #1f2937;">--</div>
<div class="t" style="top:177.6px;line-height:20px;font-size:12px;color:#1f2937;left:1440.0px;font-family:'Liberation Mono',monospace;-webkit-text-stroke:0.15px #1f2937;">--</div>
<div style="position:absolute;left:1.0px;top:251.0px;width:1547.0px;height:1.0px;background:#dde2eb;"></div>
<svg style="position:absolute;left:7.7px;top:221.5px;" width="18" height="18" viewBox="0 0 18 18"><circle cx="9" cy="9" r="7.200" fill="none" stroke="#1f2937" stroke-width="1.500"/><path d="M9 1.800v3.200M9 13v3.200M1.800 9h3.200M13 9h3.200" stroke="#1f2937" stroke-width="1.500"/></svg>
<div class="t" style="top:221.3px;line-height:20px;font-size:14px;font-weight:bold;color:#181d1f;left:49.3px;">entertainment</div>
<div class="t" style="top:221.3px;line-height:20px;font-size:14px;color:#181d1f;letter-spacing:-0.15px;left:249.3px;">DIS, ROKU, NFLX</div>
<div class="t" style="top:221.3px;line-height:20px;font-size:14px;color:#181d1f;letter-spacing:0.93px;left:399.6px;">$1,673.00</div>
<div class="t" style="top:221.3px;line-height:20px;font-size:14px;color:#181d1f;letter-spacing:0.48px;left:549.3px;">19-Dec-25, 16-J...</div>
<div class="t" style="top:221.3px;line-height:20px;font-size:14px;color:#181d1f;letter-spacing:0.50px;left:699.3px;">3</div>
<div style="position:absolute;left:799.0px;top:221.1px;width:71.6px;height:21.0px;background:#fee2e2;border:1px solid #fca5a5;border-radius:4px;box-sizing:border-box;"></div><div class="t" style="top:221.6px;line-height:20px;font-size:13px;color:#991b1b;letter-spacing:0.40px;left:835.0px;transform:translateX(-50%);-webkit-text-stroke:0.2px #991b1b;"><span style="letter-spacing:2.6px">-</span>$75.00</div>
<div style="position:absolute;left:949.0px;top:221.1px;width:57.0px;height:21.0px;background:#f3f4f6;border:1px solid #6b7280;border-radius:4px;box-sizing:border-box;"></div><div class="t" style="top:221.6px;line-height:20px;font-size:13px;color:#1f2937;letter-spacing:0.40px;left:977.7px;transform:translateX(-50%);-webkit-text-stroke:0.2px #1f2937;">$0.00</div>
<div class="t" style="top:221.3px;line-height:20px;font-size:14px;color:#f59e0b;letter-spacing:0.20px;left:1099.4px;-webkit-text-stroke:0.2px #f59e0b;">28.3</div>
<div class="t" style="top:219.6px;line-height:20px;font-size:12px;color:#1f2937;left:1200.0px;font-family:'Liberation Mono',monospace;-webkit-text-stroke:0.15px #1f2937;">157.87</div>
<div class="t" style="top:219.6px;line-height:20px;font-size:12px;color:#1f2937;left:1320.0px;font-family:'Liberation Mono',monospace;-webkit-text-stroke:0.15px #1f2937;">2.4591</div>
<div class="t" style="top:219.6px;line-height:20px;font-size:12px;color:#1f2937;left:1440.0px;font-family:'Liberation Mono',monospace;-webkit-text-stroke:0.15px #1f2937;">-5.80</div>
<div style="position:absolute;left:1.0px;top:293.0px;width:1547.0px;height:1.0px;background:#dde2eb;"></div>
<svg style="position:absolute;left:7.7px;top:263.5px;" width="18" height="18" viewBox="0 0 18 18"><circle cx="9" cy="9" r="7.200" fill="none" stroke="#1f2937" stroke-width="1.500"/><path d="M9 1.800v3.200M9 13v3.200M1.800 9h3.200M13 9h3.200" stroke="#1f2937" stroke-width="1.500"/></svg>
<div class="t" style="top:263.3px;line-height:20px;font-size:14px;font-weight:bold;color:#181d1f;left:49.3px;">ev_plays</div>
<div class="t" style="top:263.3px;line-height:20px;font-size:14px;color:#181d1f;letter-spacing:-0.15px;left:249.3px;">RIVN</div>
<div class="t" style="top:263.3px;line-height:20px;font-size:14px;color:#181d1f;letter-spacing:0.93px;left:399.6px;">$5,100.00</div>
<div class="t" style="top:263.3px;line-height:20px;font-size:14px;color:#181d1f;letter-spacing:0.48px;left:549.3px;">19-Dec-25</div>
<div class="t" style="top:263.3px;line-height:20px;font-size:14px;color:#181d1f;letter-spacing:0.50px;left:699.3px;">1</div>
<div style="position:absolute;left:799.0px;top:263.1px;width:72.3px;height:21.0px;background:#d1fae5;border:1px solid #34d399;border-radius:4px;box-sizing:border-box;"></div><div class="t" style="top:263.6px;line-height:20px;font-size:13px;color:#065f46;letter-spacing:0.40px;left:835.3px;transform:translateX(-50%);-webkit-text-stroke:0.2px #065f46;">$903.00</div>
<div style="position:absolute;left:949.0px;top:263.1px;width:57.0px;height:21.0px;background:#f3f4f6;border:1px solid #6b7280;border-radius:4px;box-sizing:border-box;"></div><div class="t" style="top:263.6px;line-height:20px;font-size:13px;color:#1f2937;letter-spacing:0.40px;left:977.7px;transform:translateX(-50%);-webkit-text-stroke:0.2px #1f2937;">$0.00</div>
<div class="t" style="top:263.3px;line-height:20px;font-size:14px;color:#f59e0b;letter-spacing:0.20px;left:1099.4px;-webkit-text-stroke:0.2px #f59e0b;">19</div>
<div class="t" style="top:261.6px;line-height:20px;font-size:12px;color:#1f2937;left:1200.0px;font-family:'Liberation Mono',monospace;-webkit-text-stroke:0.15px #1f2937;">--</div>
<div class="t" style="top:261.6px;line-height:20px;font-size:12px;color:#1f2937;left:1320.0px;font-family:'Liberation Mono',monospace;-webkit-text-stroke:0.15px #1f2937;">--</div>
<div class="t" style="top:261.6px;line-height:20px;font-size:12px;color:#1f2937;left:1440.0px;font-family:'Liberation Mono',monospace;-webkit-text-stroke:0.15px #1f2937;">--</div>
<div style="position:absolute;left:1.0px;top:335.0px;width:1547.0px;height:1.0px;background:#dde2eb;"></div>
<svg style="position:absolute;left:7.7px;top:305.5px;" width="18" height="18" viewBox="0 0 18 18"><circle cx="9" cy="9" r="7.200" fill="none" stroke="#1f2937" stroke-width="1.500"/><path d="M9 1.800v3.200M9 13v3.200M1.800 9h3.200M13 9h3.200" stroke="#1f2937" stroke-width="1.500"/></svg>
<div class="t" style="top:305.3px;line-height:20px;font-size:14px;font-weight:bold;color:#181d1f;left:49.3px;">FAANG_trades</div>
<div class="t" style="top:305.3px;line-height:20px;font-size:14px;color:#181d1f;letter-spacing:-0.15px;left:249.3px;">NFLX, GOOGL, ...</div>
<div class="t" style="top:305.3px;line-height:20px;font-size:14px;color:#181d1f;letter-spacing:0.93px;left:399.6px;">$8,338.00</div>
<div class="t" style="top:305.3px;line-height:20px;font-size:14px;color:#181d1f;letter-spacing:0.48px;left:549.3px;">21-Nov-25, 19-...</div>
<div class="t" style="top:305.3px;line-height:20px;font-size:14px;color:#181d1f;letter-spacing:0.50px;left:699.3px;">4</div>
<div style="position:absolute;left:799.0px;top:305.1px;width:90.9px;height:21.0px;background:#fee2e2;border:1px solid #fca5a5;border-radius:4px;box-sizing:border-box;"></div><div class="t" style="top:305.6px;line-height:20px;font-size:13px;color:#991b1b;letter-spacing:0.40px;left:844.6px;transform:translateX(-50%);-webkit-text-stroke:0.2px #991b1b;"><span style="letter-spacing:2.6px">-</span>$1,583.00</div>
<div style="position:absolute;left:949.0px;top:305.1px;width:64.0px;height:21.0px;background:#fee2e2;border:1px solid #fca5a5;border-radius:4px;box-sizing:border-box;"></div><div class="t" style="top:305.6px;line-height:20px;font-size:13px;color:#991b1b;letter-spacing:0.40px;left:981.2px;transform:translateX(-50%);-webkit-text-stroke:0.2px #991b1b;"><span style="letter-spacing:2.6px">-</span>$4.00</div>
<div class="t" style="top:305.3px;line-height:20px;font-size:14px;color:#f59e0b;letter-spacing:0.20px;left:1099.4px;-webkit-text-stroke:0.2px #f59e0b;">12.7</div>
<div class="t" style="top:303.6px;line-height:20px;font-size:12px;color:#1f2937;left:1200.0px;font-family:'Liberation Mono',monospace;-webkit-text-stroke:0.15px #1f2937;">347.53</div>
<div class="t" style="top:303.6px;line-height:20px;font-size:12px;color:#1f2937;left:1320.0px;font-family:'Liberation Mono',monospace;-webkit-text-stroke:0.15px #1f2937;">5.0100</div>
<div class="t" style="top:303.6px;line-height:20px;font-size:12px;color:#1f2937;left:1440.0px;font-family:'Liberation Mono',monospace;-webkit-text-stroke:0.15px #1f2937;">-125.68</div>
<div style="position:absolute;left:1.0px;top:377.0px;width:1547.0px;height:1.0px;background:#dde2eb;"></div>
<svg style="position:absolute;left:7.7px;top:347.5px;" width="18" height="18" viewBox="0 0 18 18"><circle cx="9" cy="9" r="7.200" fill="none" stroke="#1f2937" stroke-width="1.500"/><path d="M9 1.800v3.200M9 13v3.200M1.800 9h3.200M13 9h3.200" stroke="#1f2937" stroke-width="1.500"/></svg>
<div class="t" style="top:347.3px;line-height:20px;font-size:14px;font-weight:bold;color:#181d1f;left:49.3px;">fintech</div>
<div class="t" style="top:347.3px;line-height:20px;font-size:14px;color:#181d1f;letter-spacing:-0.15px;left:249.3px;">SQ, PYPL</div>
<div class="t" style="top:347.3px;line-height:20px;font-size:14px;color:#181d1f;letter-spacing:0.93px;left:399.6px;">$2,634.00</div>
<div class="t" style="top:347.3px;line-height:20px;font-size:14px;color:#181d1f;letter-spacing:0.48px;left:549.3px;">16-Jan-26</div>
<div class="t" style="top:347.3px;line-height:20px;font-size:14px;color:#181d1f;letter-spacing:0.50px;left:699.3px;">2</div>
<div style="position:absolute;left:799.0px;top:347.1px;width:83.9px;height:21.0px;background:#d1fae5;border:1px solid #34d399;border-radius:4px;box-sizing:border-box;"></div><div class="t" style="top:347.6px;line-height:20px;font-size:13px;color:#065f46;letter-spacing:0.40px;left:841.2px;transform:translateX(-50%);-webkit-text-stroke:0.2px #065f46;">$4,182.00</div>
<div style="position:absolute;left:949.0px;top:347.1px;width:57.0px;height:21.0px;background:#f3f4f6;border:1px solid #6b7280;border-radius:4px;box-sizing:border-box;"></div><div class="t" style="top:347.6px;line-height:20px;font-size:13px;color:#1f2937;letter-spacing:0.40px;left:977.7px;transform:translateX(-50%);-webkit-text-stroke:0.2px #1f2937;">$0.00</div>
<div class="t" style="top:347.3px;line-height:20px;font-size:14px;color:#6b7280;letter-spacing:0.20px;left:1099.4px;">47</div>
<div class="t" style="top:345.6px;line-height:20px;font-size:12px;color:#1f2937;left:1200.0px;font-family:'Liberation Mono',monospace;-webkit-text-stroke:0.15px #1f2937;">--</div>
<div class="t" style="top:345.6px;line-height:20px;font-size:12px;color:#1f2937;left:1320.0px;font-family:'Liberation Mono',monospace;-webkit-text-stroke:0.15px #1f2937;">--</div>
<div class="t" style="top:345.6px;line-height:20px;font-size:12px;color:#1f2937;left:1440.0px;font-family:'Liberation Mono',monospace;-webkit-text-stroke:0.15px #1f2937;">--</div>
<div style="position:absolute;left:1.0px;top:419.0px;width:1547.0px;height:1.0px;background:#dde2eb;"></div>
<svg style="position:absolute;left:7.7px;top:389.5px;" width="18" height="18" viewBox="0 0 18 18"><circle cx="9" cy="9" r="7.200" fill="none" stroke="#1f2937" stroke-width="1.500"/><path d="M9 1.800v3.200M9 13v3.200M1.800 9h3.200M13 9h3.200" stroke="#1f2937" stroke-width="1.500"/></svg>
<div class="t" style="top:389.3px;line-height:20px;font-size:14px;font-weight:bold;color:#181d1f;left:49.3px;">market_hedge</div>
<div class="t" style="top:389.3px;line-height:20px;font-size:14px;color:#181d1f;letter-spacing:-0.15px;left:249.3px;">SPY, QQQ</div>
<div class="t" style="top:389.3px;line-height:20px;font-size:14px;color:#181d1f;letter-spacing:0.93px;left:399.6px;">$123,567.00</div>
<div class="t" style="top:389.3px;line-height:20px;font-size:14px;color:#181d1f;letter-spacing:0.48px;left:549.3px;">21-Nov-25, 19-...</div>
<div class="t" style="top:389.3px;line-height:20px;font-size:14px;color:#181d1f;letter-spacing:0.50px;left:699.3px;">3</div>
<div style="position:absolute;left:799.0px;top:389.1px;width:83.9px;height:21.0px;background:#d1fae5;border:1px solid #34d399;border-radius:4px;box-sizing:border-box;"></div><div class="t" style="top:389.6px;line-height:20px;font-size:13px;color:#065f46;letter-spacing:0.40px;left:841.2px;transform:translateX(-50%);-webkit-text-stroke:0.2px #065f46;">$5,184.00</div>
<div style="position:absolute;left:949.0px;top:389.1px;width:64.0px;height:21.0px;background:#fee2e2;border:1px solid #fca5a5;border-radius:4px;box-sizing:border-box;"></div><div class="t" style="top:389.6px;line-height:20px;font-size:13px;color:#991b1b;letter-spacing:0.40px;left:981.2px;transform:translateX(-50%);-webkit-text-stroke:0.2px #991b1b;"><span style="letter-spacing:2.6px">-</span>$2.00</div>
<div class="t" style="top:389.3px;line-height:20px;font-size:14px;color:#f59e0b;letter-spacing:0.20px;left:1099.4px;-webkit-text-stroke:0.2px #f59e0b;">11.4</div>
<div class="t" style="top:387.6px;line-height:20px;font-size:12px;color:#1f2937;left:1200.0px;font-family:'Liberation Mono',monospace;-webkit-text-stroke:0.15px #1f2937;">--</div>
<div class="t" style="top:387.6px;line-height:20px;font-size:12px;color:#1f2937;left:1320.0px;font-family:'Liberation Mono',monospace;-webkit-text-stroke:0.15px #1f2937;">--</div>
<div class="t" style="top:387.6px;line-height:20px;font-size:12px;color:#1f2937;left:1440.0px;font-family:'Liberation Mono',monospace;-webkit-text-stroke:0.15px #1f2937;">--</div>
<div style="position:absolute;left:1.0px;top:461.0px;width:1547.0px;height:1.0px;background:#dde2eb;"></div>
<svg style="position:absolute;left:7.7px;top:431.5px;" width="18" height="18" viewBox="0 0 18 18"><circle cx="9" cy="9" r="7.200" fill="none" stroke="#1f2937" stroke-width="1.500"/><path d="M9 1.800v3.200M9 13v3.200M1.800 9h3.200M13 9h3.200" stroke="#1f2937" stroke-width="1.500"/></svg>
<div class="t" style="top:431.3px;line-height:20px;font-size:14px;font-weight:bold;color:#181d1f;left:49.3px;">retail</div>
<div class="t" style="top:431.3px;line-height:20px;font-size:14px;color:#181d1f;letter-spacing:-0.15px;left:249.3px;">WMT, COST</div>
<div class="t" style="top:431.3px;line-height:20px;font-size:14px;color:#181d1f;letter-spacing:0.93px;left:399.6px;">$7,220.00</div>
<div class="t" style="top:431.3px;line-height:20px;font-size:14px;color:#181d1f;letter-spacing:0.48px;left:549.3px;">19-Dec-25, 16-J...</div>
<div class="t" style="top:431.3px;line-height:20px;font-size:14px;color:#181d1f;letter-spacing:0.50px;left:699.3px;">2</div>
<div style="position:absolute;left:799.0px;top:431.1px;width:90.9px;height:21.0px;background:#fee2e2;border:1px solid #fca5a5;border-radius:4px;box-sizing:border-box;"></div><div class="t" style="top:431.6px;line-height:20px;font-size:13px;color:#991b1b;letter-spacing:0.40px;left:844.6px;transform:translateX(-50%);-webkit-text-stroke:0.2px #991b1b;"><span style="letter-spacing:2.6px">-</span>$6,329.00</div>
<div style="position:absolute;left:949.0px;top:431.1px;width:57.0px;height:21.0px;background:#f3f4f6;border:1px solid #6b7280;border-radius:4px;box-sizing:border-box;"></div><div class="t" style="top:431.6px;line-height:20px;font-size:13px;color:#1f2937;letter-spacing:0.40px;left:977.7px;transform:translateX(-50%);-webkit-text-stroke:0.2px #1f2937;">$0.00</div>
<div class="t" style="top:431.3px;line-height:20px;font-size:14px;color:#6b7280;letter-spacing:0.20px;left:1099.4px;">33</div>
<div class="t" style="top:429.6px;line-height:20px;font-size:12px;color:#1f2937;left:1200.0px;font-family:'Liberation Mono',monospace;-webkit-text-stroke:0.15px #1f2937;">34.73</div>
<div class="t" style="top:429.6px;line-height:20px;font-size:12px;color:#1f2937;left:1320.0px;font-family:'Liberation Mono',monospace;-webkit-text-stroke:0.15px #1f2937;">0.1193</div>
<div class="t" style="top:429.6px;line-height:20px;font-size:12px;color:#1f2937;left:1440.0px;font-family:'Liberation Mono',monospace;-webkit-text-stroke:0.15px #1f2937;">-110.65</div>
<div style="position:absolute;left:1.0px;top:503.0px;width:1547.0px;height:1.0px;background:#dde2eb;"></div>
<svg style="position:absolute;left:7.7px;top:473.5px;" width="18" height="18" viewBox="0 0 18 18"><circle cx="9" cy="9" r="7.200" fill="none" stroke="#1f2937" stroke-width="1.500"/><path d="M9 1.800v3.200M9 13v3.200M1.800 9h3.200M13 9h3.200" stroke="#1f2937" stroke-width="1.500"/></svg>
<div class="t" style="top:473.3px;line-height:20px;font-size:14px;font-weight:bold;color:#181d1f;left:49.3px;">tech_longs</div>
<div class="t" style="top:473.3px;line-height:20px;font-size:14px;color:#181d1f;letter-spacing:-0.15px;left:249.3px;">META, GOOGL, ...</div>
<div class="t" style="top:473.3px;line-height:20px;font-size:14px;color:#181d1f;letter-spacing:0.93px;left:399.6px;">$15,881.00</div>
<div class="t" style="top:473.3px;line-height:20px;font-size:14px;color:#181d1f;letter-spacing:0.48px;left:549.3px;">19-Dec-25, 16-J...</div>
<div class="t" style="top:473.3px;line-height:20px;font-size:14px;color:#181d1f;letter-spacing:0.50px;left:699.3px;">4</div>
<div style="position:absolute;left:799.0px;top:473.1px;width:90.9px;height:21.0px;background:#fee2e2;border:1px solid #fca5a5;border-radius:4px;box-sizing:border-box;"></div><div class="t" style="top:473.6px;line-height:20px;font-size:13px;color:#991b1b;letter-spacing:0.40px;left:844.6px;transform:translateX(-50%);-webkit-text-stroke:0.2px #991b1b;"><span style="letter-spacing:2.6px">-</span>$3,402.00</div>
<div style="position:absolute;left:949.0px;top:473.1px;width:57.0px;height:21.0px;background:#f3f4f6;border:1px solid #6b7280;border-radius:4px;box-sizing:border-box;"></div><div class="t" style="top:473.6px;line-height:20px;font-size:13px;color:#1f2937;letter-spacing:0.40px;left:977.7px;transform:translateX(-50%);-webkit-text-stroke:0.2px #1f2937;">$0.00</div>
<div class="t" style="top:473.3px;line-height:20px;font-size:14px;color:#6b7280;letter-spacing:0.20px;left:1099.4px;">124</div>
<div class="t" style="top:471.6px;line-height:20px;font-size:12px;color:#1f2937;left:1200.0px;font-family:'Liberation Mono',monospace;-webkit-text-stroke:0.15px #1f2937;">460.19</div>
<div class="t" style="top:471.6px;line-height:20px;font-size:12px;color:#1f2937;left:1320.0px;font-family:'Liberation Mono',monospace;-webkit-text-stroke:0.15px #1f2937;">4.2924</div>
<div class="t" style="top:471.6px;line-height:20px;font-size:12px;color:#1f2937;left:1440.0px;font-family:'Liberation Mono',monospace;-webkit-text-stroke:0.15px #1f2937;">-117.60</div>
<div style="position:absolute;left:1.0px;top:545.0px;width:1547.0px;height:1.0px;background:#dde2eb;"></div>
<svg style="position:absolute;left:7.7px;top:515.5px;" width="18" height="18" viewBox="0 0 18 18"><circle cx="9" cy="9" r="7.200" fill="none" stroke="#1f2937" stroke-width="1.500"/><path d="M9 1.800v3.200M9 13v3.200M1.800 9h3.200M13 9h3.200" stroke="#1f2937" stroke-width="1.500"/></svg>
<div class="t" style="top:515.3px;line-height:20px;font-size:14px;font-weight:bold;color:#181d1f;left:49.3px;">wheel_strategy</div>
<div class="t" style="top:515.3px;line-height:20px;font-size:14px;color:#181d1f;letter-spacing:-0.15px;left:249.3px;">AMZN, TSLA, M...</div>
<div class="t" style="top:515.3px;line-height:20px;font-size:14px;color:#181d1f;letter-spacing:0.93px;left:399.6px;">$158,207.00</div>
<div class="t" style="top:515.3px;line-height:20px;font-size:14px;color:#181d1f;letter-spacing:0.48px;left:549.3px;">17-Oct-25, 21-N...</div>
<div class="t" style="top:515.3px;line-height:20px;font-size:14px;color:#181d1f;letter-spacing:0.50px;left:699.3px;">10</div>
<div style="position:absolute;left:799.0px;top:515.1px;width:90.9px;height:21.0px;background:#fee2e2;border:1px solid #fca5a5;border-radius:4px;box-sizing:border-box;"></div><div class="t" style="top:515.6px;line-height:20px;font-size:13px;color:#991b1b;letter-spacing:0.40px;left:844.6px;transform:translateX(-50%);-webkit-text-stroke:0.2px #991b1b;"><span style="letter-spacing:2.6px">-</span>$1,489.00</div>
<div style="position:absolute;left:949.0px;top:515.1px;width:64.0px;height:21.0px;background:#fee2e2;border:1px solid #fca5a5;border-radius:4px;box-sizing:border-box;"></div><div class="t" style="top:515.6px;line-height:20px;font-size:13px;color:#991b1b;letter-spacing:0.40px;left:981.2px;transform:translateX(-50%);-webkit-text-stroke:0.2px #991b1b;"><span style="letter-spacing:2.6px">-</span>$4.00</div>
<div class="t" style="top:515.3px;line-height:20px;font-size:14px;color:#f59e0b;letter-spacing:0.20px;left:1099.4px;-webkit-text-stroke:0.2px #f59e0b;">17.3</div>
<div class="t" style="top:513.6px;line-height:20px;font-size:12px;color:#1f2937;left:1200.0px;font-family:'Liberation Mono',monospace;-webkit-text-stroke:0.15px #1f2937;">-1083.12</div>
<div class="t" style="top:513.6px;line-height:20px;font-size:12px;color:#1f2937;left:1320.0px;font-family:'Liberation Mono',monospace;-webkit-text-stroke:0.15px #1f2937;">29.8932</div>
<div class="t" style="top:513.6px;line-height:20px;font-size:12px;color:#1f2937;left:1440.0px;font-family:'Liberation Mono',monospace;-webkit-text-stroke:0.15px #1f2937;">-93.35</div>
<div style="position:absolute;left:232.0px;top:0.0px;width:1.0px;height:531.0px;background:#bcc5d3;"></div></div>
<div style="position:absolute;left:1836.0px;top:498.0px;width:15.5px;height:531.0px;background:#fff;"></div>
<svg style="position:absolute;left:1839.0px;top:503.0px;" width="9" height="7" viewBox="0 0 9 7"><path d="M4.500 0.500L9 6.500H0z" fill="#8b8b8b"/></svg>
<div style="position:absolute;left:1839.0px;top:515.5px;width:9.0px;height:368.5px;background:#8b8b8b;border-radius:4.500px;"></div>
<svg style="position:absolute;left:1839.0px;top:1018.0px;" width="9" height="7" viewBox="0 0 9 7"><path d="M0 0.500h9L4.500 6.500z" fill="#8b8b8b"/></svg>
<div style="position:absolute;left:289.0px;top:1029.0px;width:1562.5px;height:15.0px;background:#fafafa;"></div>
<div style="position:absolute;left:289.0px;top:1044.0px;width:1598.0px;height:1.0px;background:#cfd6e0;"></div>
<div style="position:absolute;left:520.0px;top:1029.0px;width:1.0px;height:15.0px;background:#bcc5d3;"></div>
<svg style="position:absolute;left:296.0px;top:1032.0px;" width="7" height="9" viewBox="0 0 7 9"><path d="M0.500 4.500L6.500 0v9z" fill="#8b8b8b"/></svg>
<svg style="position:absolute;left:509.5px;top:1032.0px;" width="7" height="9" viewBox="0 0 7 9"><path d="M6.500 4.500L0.500 0v9z" fill="#8b8b8b"/></svg>
<svg style="position:absolute;left:526.0px;top:1032.0px;" width="7" height="9" viewBox="0 0 7 9"><path d="M0.500 4.500L6.500 0v9z" fill="#8b8b8b"/></svg>
<div style="position:absolute;left:538.5px;top:1032.4px;width:1174.5px;height:8.2px;background:#8b8b8b;border-radius:4.100px;"></div>
<svg style="position:absolute;left:1825.0px;top:1032.0px;" width="7" height="9" viewBox="0 0 7 9"><path d="M6.500 4.500L0.500 0v9z" fill="#8b8b8b"/></svg>
<div style="position:absolute;left:1851.5px;top:450.0px;width:35.3px;height:594.0px;background:#f9fafb;border-left:1px solid #bcc5d3;box-sizing:border-box;"></div>
<svg style="position:absolute;left:1862.8px;top:474.0px;" width="14" height="14" viewBox="0 0 14 14"><rect x="1" y="1" width="12" height="12" rx="1.800" fill="none" stroke="#181d1f" stroke-width="1.500"/><path d="M1 5h12M5 5v8" stroke="#181d1f" stroke-width="1.500"/></svg>
<div style="position:absolute;left:1858.5px;top:496.0px;width:20.0px;height:54.0px;"><div class="t" style="left:10px;top:0;transform-origin:0 0;transform:rotate(90deg) translateY(-50%);font-size:14px;line-height:20px;letter-spacing:-0.15px;color:#181d1f;margin-top:0">Columns</div></div>
<svg style="position:absolute;left:1862.8px;top:602.5px;" width="14" height="11" viewBox="0 0 14 11"><path d="M1 1.500h12M3.500 5.500h7M5.500 9.500h3" stroke="#181d1f" stroke-width="1.600"/></svg>
<div style="position:absolute;left:1858.5px;top:623.0px;width:20.0px;height:40.0px;"><div class="t" style="left:10px;top:0;transform-origin:0 0;transform:rotate(90deg) translateY(-50%);font-size:14px;line-height:20px;letter-spacing:-0.3px;color:#181d1f">Filters</div></div>
<div class="t" style="top:1057.0px;line-height:20px;font-size:14px;color:#181d1f;letter-spacing:0.13px;left:862.7px;">Page Size:</div>
<div style="position:absolute;left:940.3px;top:1051.5px;width:50.5px;height:31.0px;border:1px solid #bcc5d3;border-radius:4px;box-sizing:border-box;background:#fff;"></div>
<div class="t" style="top:1057.0px;line-height:20px;font-size:14px;color:#181d1f;letter-spacing:0.71px;left:949.3px;">20</div>
<svg style="position:absolute;left:971.3px;top:1064.0px;" width="10" height="6" viewBox="0 0 10 6"><path d="M0.500 0.500h8l-4 5z" fill="#181d1f"/></svg>
<div class="t" style="top:1057.0px;line-height:20px;font-size:14px;color:#181d1f;letter-spacing:-0.10px;left:1023.7px;"><b>1</b> to <b>17</b> of <b>17</b></div>
<svg style="position:absolute;left:1133.5px;top:1061.0px;" width="11" height="12" viewBox="0 0 11 12"><path d="M1.500 1.500v9M9.500 1.500L5 6l4.500 4.500" stroke="#c3c7cd" stroke-width="1.300" fill="none"/></svg>
<svg style="position:absolute;left:1163.0px;top:1061.0px;" width="8" height="12" viewBox="0 0 8 12"><path d="M6.500 1.500L2 6l4.500 4.500" stroke="#c3c7cd" stroke-width="1.300" fill="none"/></svg>
<div class="t" style="top:1057.0px;line-height:20px;font-size:14px;color:#181d1f;letter-spacing:-0.10px;left:1188.0px;">Page <b>1</b> of <b>1</b></div>
<svg style="position:absolute;left:1273.5px;top:1061.0px;" width="8" height="12" viewBox="0 0 8 12"><path d="M1.500 1.500L6 6l-4.500 4.500" stroke="#c3c7cd" stroke-width="1.300" fill="none"/></svg>
<svg style="position:absolute;left:1300.5px;top:1061.0px;" width="11" height="12" viewBox="0 0 11 12"><path d="M9.500 1.500v9M1.500 1.500L6 6l-4.500 4.500" stroke="#c3c7cd" stroke-width="1.300" fill="none"/></svg>
<div style="position:absolute;left:272.0px;top:1120.0px;width:808.0px;height:578.0px;background:#fff;border-radius:8px;box-shadow:0 1px 3px rgba(0,0,0,.09),0 1px 2px rgba(0,0,0,.05);"></div>
<div style="position:absolute;left:1096.0px;top:1120.0px;width:808.0px;height:578.0px;background:#fff;border-radius:8px;box-shadow:0 1px 3px rgba(0,0,0,.09),0 1px 2px rgba(0,0,0,.05);"></div>
<div class="t" style="top:1136.5px;line-height:28px;font-size:18px;font-weight:bold;left:288.7px;">Capital at Risk by Strategy</div>
<svg style="position:absolute;left:525.0px;top:1143.0px;" width="15" height="15" viewBox="0 0 15 15"><circle cx="7.5" cy="7.5" r="7.5" fill="#9ca3af"/><text x="7.5" y="11.17" text-anchor="middle" font-family="Liberation Sans, sans-serif" font-weight="bold" font-size="10.2" fill="#fff">?</text></svg>
<div class="t" style="top:1136.5px;line-height:28px;font-size:18px;font-weight:bold;letter-spacing:0.09px;left:1112.7px;">Capital at Risk ($) by Underlying</div>
<svg style="position:absolute;left:1401.0px;top:1143.0px;" width="15" height="15" viewBox="0 0 15 15"><circle cx="7.5" cy="7.5" r="7.5" fill="#9ca3af"/><text x="7.5" y="11.17" text-anchor="middle" font-family="Liberation Sans, sans-serif" font-weight="bold" font-size="10.2" fill="#fff">?</text></svg>
<div style="position:absolute;left:1791.1px;top:1136.0px;width:96.6px;height:29.6px;border:1px solid #d1d5db;border-radius:8.500px;box-sizing:border-box;background:#fff;"></div>
<svg style="position:absolute;left:1804.9px;top:1144.0px;" width="14" height="14" viewBox="0 0 14 14"><rect x="0.800" y="0.800" width="12.400" height="12.400" fill="#c9cdd4"/><g fill="#fff" stroke="#4b5563" stroke-width="1.500"><rect x="0.800" y="0.800" width="4.900" height="4.900"/><rect x="8.300" y="0.800" width="4.900" height="4.900"/><rect x="0.800" y="8.300" width="4.900" height="4.900"/><rect x="8.300" y="8.300" width="4.900" height="4.900"/></g></svg>
<div class="t" style="top:1140.9px;line-height:20px;font-size:12px;color:#374151;letter-spacing:0.25px;left:1825.1px;-webkit-text-stroke:0.25px #374151;">Treemap</div>
<div style="position:absolute;left:272.0px;top:1714.0px;width:1632.0px;height:706.0px;background:#fff;border-radius:8px;box-shadow:0 1px 3px rgba(0,0,0,.09),0 1px 2px rgba(0,0,0,.05);"></div>
<div class="t" style="top:1745.0px;line-height:28px;font-size:18px;font-weight:bold;left:288.7px;">Portfolio Payoff Diagram</div>
<svg style="position:absolute;left:508.5px;top:1751.5px;" width="15" height="15" viewBox="0 0 15 15"><circle cx="7.5" cy="7.5" r="7.5" fill="#9ca3af"/><text x="7.5" y="11.17" text-anchor="middle" font-family="Liberation Sans, sans-serif" font-weight="bold" font-size="10.2" fill="#fff">?</text></svg>
<div class="t" style="top:1727.7px;line-height:20px;font-size:12px;color:#374151;letter-spacing:0.50px;left:1588.2px;-webkit-text-stroke:0.25px #374151;">Underlying</div>
<div style="position:absolute;left:1588.2px;top:1750.2px;width:127.8px;height:38.0px;border:1px solid #d1d5db;border-radius:8px;box-sizing:border-box;background:#f9fafb;"></div>
<div class="t" style="top:1759.5px;line-height:20px;font-size:14px;letter-spacing:0.35px;left:1597.2px;">NVDA</div>
<svg style="position:absolute;left:1691.5px;top:1765.5px;" width="13" height="9" viewBox="0 0 13 9"><path d="M1.500 1.800L6.500 6.600l5-4.800" stroke="#6b7280" stroke-width="2" fill="none" stroke-linecap="round" stroke-linejoin="round"/></svg>
<div class="t" style="top:1727.7px;line-height:20px;font-size:12px;color:#374151;letter-spacing:0.28px;left:1728.0px;-webkit-text-stroke:0.25px #374151;">Date Simulation</div>
<div style="position:absolute;left:1728.0px;top:1750.2px;width:159.8px;height:38.0px;border:1px solid #d1d5db;border-radius:8px;box-sizing:border-box;background:#f9fafb;"></div>
<div class="t" style="top:1759.5px;line-height:20px;font-size:14px;letter-spacing:0.35px;left:1737.0px;">T+0 (Today)</div>
<svg style="position:absolute;left:1863.3px;top:1765.5px;" width="13" height="9" viewBox="0 0 13 9"><path d="M1.500 1.800L6.500 6.600l5-4.800" stroke="#6b7280" stroke-width="2" fill="none" stroke-linecap="round" stroke-linejoin="round"/></svg>
<svg style="position:absolute;left:0;top:0" width="1920" height="2430" viewBox="0 0 1920 2430"><path d="M681.0 1257.6L681.0 1239.5L695.5 1239.5" fill="none" stroke="#38a0da" stroke-width="1.1"/><path d="M687.7 1257.9L763.0 1256.0" fill="none" stroke="#30bfe8" stroke-width="1.1"/><path d="M694.2 1258.4L792.0 1272.0" fill="none" stroke="#66dee3" stroke-width="1.1"/><path d="M700.3 1259.2L812.5 1288.0" fill="none" stroke="#a0e4b8" stroke-width="1.1"/><path d="M702.0 1259.4L828.5 1304.0" fill="none" stroke="#fcd34d" stroke-width="1.1"/><path d="M704.7 1259.9L841.0 1320.0" fill="none" stroke="#ff9478" stroke-width="1.1"/><path d="M715.5 1262.0L851.0 1336.0" fill="none" stroke="#f87294" stroke-width="1.1"/><path d="M734.0 1267.4L859.5 1352.0" fill="none" stroke="#e060ac" stroke-width="1.1"/><path d="M748.0 1273.1L865.5 1368.0" fill="none" stroke="#e890d0" stroke-width="1.1"/><path d="M849.2 1436.5L875.0 1436.5" fill="none" stroke="#e4bcf0" stroke-width="1.1"/><path d="M728.0 1595.6L748.0 1610.5L763.0 1610.5" fill="none" stroke="#a09af0" stroke-width="1.1"/><path d="M690.9 1602.9L690.9 1627.0L706.5 1627.0" fill="none" stroke="#8078e4" stroke-width="1.1"/><path d="M503.2 1437.5L476.0 1437.5" fill="none" stroke="#96befc" stroke-width="1.1"/><path d="M656.4 1258.6L539.0 1288.0" fill="none" stroke="#38a0da" stroke-width="1.1"/><path d="M664.6 1257.9L560.0 1272.0" fill="none" stroke="#30bfe8" stroke-width="1.1"/><path d="M667.9 1257.7L589.0 1256.0" fill="none" stroke="#66dee3" stroke-width="1.1"/><path d="M673.2 1257.5L673.2 1239.5L657.5 1239.5" fill="none" stroke="#a0e4b8" stroke-width="1.1"/><path d="M676.20 1255.50A175 175 0 0 1 685.87 1255.77L681.75 1330.15A100.5 100.5 0 0 0 676.20 1330.00Z" fill="#38a0da" stroke="#38a0da" stroke-width="0.4"/><path d="M685.87 1255.77A175 175 0 0 1 689.82 1256.03L684.02 1330.30A100.5 100.5 0 0 0 681.75 1330.15Z" fill="#30bfe8" stroke="#30bfe8" stroke-width="0.4"/><path d="M689.82 1256.03A175 175 0 0 1 698.90 1256.98L689.23 1330.85A100.5 100.5 0 0 0 684.02 1330.30Z" fill="#66dee3" stroke="#66dee3" stroke-width="0.4"/><path d="M698.90 1256.98A175 175 0 0 1 702.27 1257.45L691.17 1331.12A100.5 100.5 0 0 0 689.23 1330.85Z" fill="#a0e4b8" stroke="#a0e4b8" stroke-width="0.4"/><path d="M702.27 1257.45A175 175 0 0 1 707.69 1258.36L694.29 1331.64A100.5 100.5 0 0 0 691.17 1331.12Z" fill="#ff9478" stroke="#ff9478" stroke-width="0.4"/><path d="M707.69 1258.36A175 175 0 0 1 724.18 1262.21L703.75 1333.85A100.5 100.5 0 0 0 694.29 1331.64Z" fill="#f87294" stroke="#f87294" stroke-width="0.4"/><path d="M724.18 1262.21A175 175 0 0 1 744.89 1269.55L715.65 1338.07A100.5 100.5 0 0 0 703.75 1333.85Z" fill="#e060ac" stroke="#e060ac" stroke-width="0.4"/><path d="M744.89 1269.55A175 175 0 0 1 752.79 1273.15L720.19 1340.14A100.5 100.5 0 0 0 715.65 1338.07Z" fill="#e890d0" stroke="#e890d0" stroke-width="0.4"/><path d="M752.79 1273.15A175 175 0 0 1 739.91 1593.49L712.79 1524.10A100.5 100.5 0 0 0 720.19 1340.14Z" fill="#e4bcf0" stroke="#e4bcf0" stroke-width="0.4"/><path d="M739.91 1593.49A175 175 0 0 1 717.05 1600.66L699.66 1528.22A100.5 100.5 0 0 0 712.79 1524.10Z" fill="#a09af0" stroke="#a09af0" stroke-width="0.4"/><path d="M717.05 1600.66A175 175 0 0 1 664.77 1605.13L669.64 1530.79A100.5 100.5 0 0 0 699.66 1528.22Z" fill="#8078e4" stroke="#8078e4" stroke-width="0.4"/><path d="M664.77 1605.13A175 175 0 0 1 648.93 1257.64L660.54 1331.23A100.5 100.5 0 0 0 669.64 1530.79Z" fill="#96befc" stroke="#96befc" stroke-width="0.4"/><path d="M648.93 1257.64A175 175 0 0 1 663.35 1255.97L668.82 1330.27A100.5 100.5 0 0 0 660.54 1331.23Z" fill="#38a0da" stroke="#38a0da" stroke-width="0.4"/><path d="M663.35 1255.97A175 175 0 0 1 665.54 1255.82L670.08 1330.19A100.5 100.5 0 0 0 668.82 1330.27Z" fill="#30bfe8" stroke="#30bfe8" stroke-width="0.4"/><path d="M665.54 1255.82A175 175 0 0 1 670.04 1255.61L672.66 1330.06A100.5 100.5 0 0 0 670.08 1330.19Z" fill="#66dee3" stroke="#66dee3" stroke-width="0.4"/><path d="M670.04 1255.61A175 175 0 0 1 676.20 1255.50L676.20 1330.00A100.5 100.5 0 0 0 672.66 1330.06Z" fill="#a0e4b8" stroke="#a0e4b8" stroke-width="0.4"/><text x="701.0" y="1243.8" font-size="12" text-anchor="start" fill="#404040" letter-spacing="0.25">bull_spread: 0.88%</text><text x="768.5" y="1260.3" font-size="12" text-anchor="start" fill="#404040" letter-spacing="0.25">china_exposure: 0.36%</text><text x="797.5" y="1276.3" font-size="12" text-anchor="start" fill="#404040" letter-spacing="0.25">crypto_exposure: 0.83%</text><text x="818.0" y="1292.3" font-size="12" text-anchor="start" fill="#404040" letter-spacing="0.25">e_commerce: 0.31%</text><text x="834.0" y="1308.3" font-size="12" text-anchor="start" fill="#404040" letter-spacing="0.25">earnings_play: 0%</text><text x="846.5" y="1324.3" font-size="12" text-anchor="start" fill="#404040" letter-spacing="0.25">entertainment: 0.5%</text><text x="856.5" y="1340.3" font-size="12" text-anchor="start" fill="#404040" letter-spacing="0.25">ev_plays: 1.54%</text><text x="865.0" y="1356.3" font-size="12" text-anchor="start" fill="#404040" letter-spacing="0.25">FAANG_trades: 2%</text><text x="871.0" y="1372.3" font-size="12" text-anchor="start" fill="#404040" letter-spacing="0.25">fintech: 0.79%</text><text x="880.5" y="1440.8" font-size="12" text-anchor="start" fill="#404040" letter-spacing="0.25">market_hedge: 36.86%</text><text x="768.5" y="1614.8" font-size="12" text-anchor="start" fill="#404040" letter-spacing="0.25">retail: 2.18%</text><text x="712.0" y="1631.3" font-size="12" text-anchor="start" fill="#404040" letter-spacing="0.25">tech_longs: 4.79%</text><text x="470.5" y="1441.8" font-size="12" text-anchor="end" fill="#404040" letter-spacing="0.25">wheel_strategy: 46.47%</text><text x="533.5" y="1292.3" font-size="12" text-anchor="end" fill="#404040" letter-spacing="0.25">Ungrouped - TSLA: 1.32%</text><text x="554.5" y="1276.3" font-size="12" text-anchor="end" fill="#404040" letter-spacing="0.25">Ungrouped - BA: 0.2%</text><text x="583.5" y="1260.3" font-size="12" text-anchor="end" fill="#404040" letter-spacing="0.25">Ungrouped - NVDA: 0.41%</text><text x="652.0" y="1243.8" font-size="12" text-anchor="end" fill="#404040" letter-spacing="0.25">Ungrouped - IWM: 0.56%</text><text x="676.0" y="1194.8" font-size="12" text-anchor="middle" fill="#4d4d4d" font-weight="bold" letter-spacing="0.11">Capital at Risk (%) by Strategy</text><rect x="608" y="1205.200" width="26" height="13.800" rx="2.500" fill="#38a0da"/><text x="638.7" y="1216.3" font-size="12" text-anchor="start" fill="#404040" letter-spacing="0.25">Capital at Risk (%)</text><text x="1178.6" y="1631.0" font-size="12" text-anchor="end" fill="#404040" letter-spacing="0.44">0</text><path d="M1186.6 1561.6H1834.0" stroke="#dadeed" stroke-width="1"/><text x="1178.6" y="1565.2" font-size="12" text-anchor="end" fill="#404040" letter-spacing="0.44">20,000</text><path d="M1186.6 1495.7H1834.0" stroke="#dadeed" stroke-width="1"/><text x="1178.6" y="1499.4" font-size="12" text-anchor="end" fill="#404040" letter-spacing="0.44">40,000</text><path d="M1186.6 1429.9H1834.0" stroke="#dadeed" stroke-width="1"/><text x="1178.6" y="1433.5" font-size="12" text-anchor="end" fill="#404040" letter-spacing="0.44">60,000</text><path d="M1186.6 1364.1H1834.0" stroke="#dadeed" stroke-width="1"/><text x="1178.6" y="1367.7" font-size="12" text-anchor="end" fill="#404040" letter-spacing="0.44">80,000</text><path d="M1186.6 1298.2H1834.0" stroke="#dadeed" stroke-width="1"/><text x="1178.6" y="1301.9" font-size="12" text-anchor="end" fill="#404040" letter-spacing="0.44">100,000</text><path d="M1186.6 1232.4H1834.0" stroke="#dadeed" stroke-width="1"/><text x="1178.6" y="1236.0" font-size="12" text-anchor="end" fill="#404040" letter-spacing="0.44">120,000</text><rect x="1190.0" y="1608.1" width="15.6" height="19.3" fill="#38a0da"/><rect x="1212.3" y="1623.3" width="15.6" height="4.1" fill="#38a0da"/><rect x="1234.6" y="1618.4" width="15.6" height="9.0" fill="#38a0da"/><rect x="1256.9" y="1624.0" width="15.6" height="3.4" fill="#38a0da"/><rect x="1279.3" y="1623.8" width="15.6" height="3.6" fill="#38a0da"/><rect x="1301.6" y="1625.8" width="15.6" height="1.6" fill="#38a0da"/><rect x="1323.9" y="1625.1" width="15.6" height="2.3" fill="#38a0da"/><rect x="1346.2" y="1610.6" width="15.6" height="16.8" fill="#38a0da"/><rect x="1368.6" y="1606.4" width="15.6" height="21.0" fill="#38a0da"/><rect x="1390.9" y="1622.8" width="15.6" height="4.6" fill="#38a0da"/><rect x="1413.2" y="1622.8" width="15.6" height="4.6" fill="#38a0da"/><rect x="1435.5" y="1239.0" width="15.6" height="388.4" fill="#38a0da"/><rect x="1457.9" y="1613.2" width="15.6" height="14.2" fill="#38a0da"/><rect x="1480.2" y="1623.3" width="15.6" height="4.1" fill="#38a0da"/><rect x="1502.5" y="1607.7" width="15.6" height="19.8" fill="#38a0da"/><rect x="1524.8" y="1610.0" width="15.6" height="17.4" fill="#38a0da"/><rect x="1547.1" y="1615.2" width="15.6" height="12.2" fill="#38a0da"/><rect x="1569.5" y="1610.6" width="15.6" height="16.8" fill="#38a0da"/><rect x="1591.8" y="1602.4" width="15.6" height="25.0" fill="#38a0da"/><rect x="1614.1" y="1539.8" width="15.6" height="87.6" fill="#38a0da"/><rect x="1636.4" y="1484.2" width="15.6" height="143.2" fill="#38a0da"/><rect x="1658.8" y="1485.9" width="15.6" height="141.5" fill="#38a0da"/><rect x="1681.1" y="1579.8" width="15.6" height="47.6" fill="#38a0da"/><rect x="1703.4" y="1619.2" width="15.6" height="8.2" fill="#38a0da"/><rect x="1725.7" y="1600.1" width="15.6" height="27.3" fill="#38a0da"/><rect x="1748.1" y="1598.9" width="15.6" height="28.5" fill="#38a0da"/><rect x="1770.4" y="1612.9" width="15.6" height="14.5" fill="#38a0da"/><rect x="1792.7" y="1625.1" width="15.6" height="2.3" fill="#38a0da"/><rect x="1815.0" y="1621.5" width="15.6" height="5.9" fill="#38a0da"/><path d="M1186.6 1627.4H1834.0" stroke="#4b5563" stroke-width="1"/><path d="M1186.6 1627.4v4.500" stroke="#4b5563" stroke-width="1"/><text x="1197.8" y="1645.1" font-size="12" text-anchor="middle" fill="#404040" letter-spacing="0.3">AAPL</text><path d="M1253.6 1627.4v4.500" stroke="#4b5563" stroke-width="1"/><text x="1264.7" y="1645.1" font-size="12" text-anchor="middle" fill="#404040" letter-spacing="0.3">SHOP</text><path d="M1320.5 1627.4v4.500" stroke="#4b5563" stroke-width="1"/><text x="1331.7" y="1645.1" font-size="12" text-anchor="middle" fill="#404040" letter-spacing="0.3">DIS</text><path d="M1387.5 1627.4v4.500" stroke="#4b5563" stroke-width="1"/><text x="1398.7" y="1645.1" font-size="12" text-anchor="middle" fill="#404040" letter-spacing="0.3">SQ</text><path d="M1454.5 1627.4v4.500" stroke="#4b5563" stroke-width="1"/><text x="1465.7" y="1645.1" font-size="12" text-anchor="middle" fill="#404040" letter-spacing="0.3">SPY</text><path d="M1521.5 1627.4v4.500" stroke="#4b5563" stroke-width="1"/><text x="1532.6" y="1645.1" font-size="12" text-anchor="middle" fill="#404040" letter-spacing="0.3">PLTR</text><path d="M1588.4 1627.4v4.500" stroke="#4b5563" stroke-width="1"/><text x="1599.6" y="1645.1" font-size="12" text-anchor="middle" fill="#404040" letter-spacing="0.3">F</text><path d="M1655.4 1627.4v4.500" stroke="#4b5563" stroke-width="1"/><text x="1666.6" y="1645.1" font-size="12" text-anchor="middle" fill="#404040" letter-spacing="0.3">AMD</text><path d="M1722.4 1627.4v4.500" stroke="#4b5563" stroke-width="1"/><text x="1733.5" y="1645.1" font-size="12" text-anchor="middle" fill="#404040" letter-spacing="0.3">UBER</text><path d="M1789.4 1627.4v4.500" stroke="#4b5563" stroke-width="1"/><text x="1800.5" y="1645.1" font-size="12" text-anchor="middle" fill="#404040" letter-spacing="0.3">BA</text><path d="M1834.0 1627.4v4.500" stroke="#4b5563" stroke-width="1"/><text x="1499.6" y="1196.8" font-size="12" text-anchor="middle" fill="#4d4d4d" font-weight="bold" letter-spacing="0.09">Capital at Risk by Underlying</text><rect x="1445.500" y="1207.200" width="25" height="13.800" rx="2.500" fill="#38a0da"/><text x="1474.7" y="1218.3" font-size="12" text-anchor="start" fill="#404040" letter-spacing="0.3">Capital at Risk</text><path d="M378.3 2342.5H1775.7" stroke="#dadeed" stroke-width="1"/><text x="369.8" y="2346.1" font-size="12" text-anchor="end" fill="#404040" letter-spacing="0.5">-6,000</text><path d="M378.3 2272.8H1775.7" stroke="#dadeed" stroke-width="1"/><text x="369.8" y="2276.4" font-size="12" text-anchor="end" fill="#404040" letter-spacing="0.5">-4,000</text><path d="M378.3 2203.0H1775.7" stroke="#dadeed" stroke-width="1"/><text x="369.8" y="2206.6" font-size="12" text-anchor="end" fill="#404040" letter-spacing="0.5">-2,000</text><text x="369.8" y="2136.9" font-size="12" text-anchor="end" fill="#404040" letter-spacing="0.5">0</text><path d="M378.3 2063.5H1775.7" stroke="#dadeed" stroke-width="1"/><text x="369.8" y="2067.1" font-size="12" text-anchor="end" fill="#404040" letter-spacing="0.5">2,000</text><path d="M378.3 1993.8H1775.7" stroke="#dadeed" stroke-width="1"/><text x="369.8" y="1997.4" font-size="12" text-anchor="end" fill="#404040" letter-spacing="0.5">4,000</text><path d="M378.3 1924.0H1775.7" stroke="#dadeed" stroke-width="1"/><text x="369.8" y="1927.7" font-size="12" text-anchor="end" fill="#404040" letter-spacing="0.5">6,000</text><path d="M378.3 1854.3H1775.7" stroke="#dadeed" stroke-width="1"/><text x="369.8" y="1857.9" font-size="12" text-anchor="end" fill="#404040" letter-spacing="0.5">8,000</text><path d="M378.3 2133.3H1775.7" stroke="#4b5563" stroke-width="1"/><path d="M378.3 2133.3v4.5" stroke="#4b5563" stroke-width="1"/><path d="M433.6 2133.3v4.5" stroke="#4b5563" stroke-width="1"/><path d="M489.0 2133.3v4.5" stroke="#4b5563" stroke-width="1"/><path d="M544.3 2133.3v4.5" stroke="#4b5563" stroke-width="1"/><path d="M599.7 2133.3v4.5" stroke="#4b5563" stroke-width="1"/><path d="M655.0 2133.3v4.5" stroke="#4b5563" stroke-width="1"/><path d="M710.4 2133.3v4.5" stroke="#4b5563" stroke-width="1"/><path d="M765.7 2133.3v4.5" stroke="#4b5563" stroke-width="1"/><path d="M821.0 2133.3v4.5" stroke="#4b5563" stroke-width="1"/><path d="M876.4 2133.3v4.5" stroke="#4b5563" stroke-width="1"/><path d="M931.7 2133.3v4.5" stroke="#4b5563" stroke-width="1"/><path d="M987.1 2133.3v4.5" stroke="#4b5563" stroke-width="1"/><path d="M1042.4 2133.3v4.5" stroke="#4b5563" stroke-width="1"/><path d="M1097.8 2133.3v4.5" stroke="#4b5563" stroke-width="1"/><path d="M1153.1 2133.3v4.5" stroke="#4b5563" stroke-width="1"/><path d="M1208.4 2133.3v4.5" stroke="#4b5563" stroke-width="1"/><path d="M1263.8 2133.3v4.5" stroke="#4b5563" stroke-width="1"/><path d="M1319.1 2133.3v4.5" stroke="#4b5563" stroke-width="1"/><path d="M1374.5 2133.3v4.5" stroke="#4b5563" stroke-width="1"/><path d="M1429.8 2133.3v4.5" stroke="#4b5563" stroke-width="1"/><path d="M1485.2 2133.3v4.5" stroke="#4b5563" stroke-width="1"/><path d="M1540.5 2133.3v4.5" stroke="#4b5563" stroke-width="1"/><path d="M1595.8 2133.3v4.5" stroke="#4b5563" stroke-width="1"/><path d="M1651.2 2133.3v4.5" stroke="#4b5563" stroke-width="1"/><path d="M1706.5 2133.3v4.5" stroke="#4b5563" stroke-width="1"/><path d="M1761.9 2133.3v4.5" stroke="#4b5563" stroke-width="1"/><path d="M1775.7 2133.3v4.5" stroke="#4b5563" stroke-width="1"/><text x="384.7" y="2360.1" font-size="12" text-anchor="middle" fill="#404040" letter-spacing="0.1">102.73</text><text x="440.1" y="2360.1" font-size="12" text-anchor="middle" fill="#404040" letter-spacing="0.1">107.45</text><text x="495.4" y="2360.1" font-size="12" text-anchor="middle" fill="#404040" letter-spacing="0.1">112.18</text><text x="550.7" y="2360.1" font-size="12" text-anchor="middle" fill="#404040" letter-spacing="0.1">116.9</text><text x="606.1" y="2360.1" font-size="12" text-anchor="middle" fill="#404040" letter-spacing="0.1">121.62</text><text x="661.4" y="2360.1" font-size="12" text-anchor="middle" fill="#404040" letter-spacing="0.1">126.35</text><text x="716.8" y="2360.1" font-size="12" text-anchor="middle" fill="#404040" letter-spacing="0.1">131.07</text><text x="772.1" y="2360.1" font-size="12" text-anchor="middle" fill="#404040" letter-spacing="0.1">135.79</text><text x="827.5" y="2360.1" font-size="12" text-anchor="middle" fill="#404040" letter-spacing="0.1">140.51</text><text x="882.8" y="2360.1" font-size="12" text-anchor="middle" fill="#404040" letter-spacing="0.1">145.24</text><text x="938.1" y="2360.1" font-size="12" text-anchor="middle" fill="#404040" letter-spacing="0.1">149.96</text><text x="993.5" y="2360.1" font-size="12" text-anchor="middle" fill="#404040" letter-spacing="0.1">154.68</text><text x="1048.8" y="2360.1" font-size="12" text-anchor="middle" fill="#404040" letter-spacing="0.1">159.4</text><text x="1104.2" y="2360.1" font-size="12" text-anchor="middle" fill="#404040" letter-spacing="0.1">164.13</text><text x="1159.5" y="2360.1" font-size="12" text-anchor="middle" fill="#404040" letter-spacing="0.1">168.85</text><text x="1214.9" y="2360.1" font-size="12" text-anchor="middle" fill="#404040" letter-spacing="0.1">173.57</text><text x="1270.2" y="2360.1" font-size="12" text-anchor="middle" fill="#404040" letter-spacing="0.1">178.3</text><text x="1325.5" y="2360.1" font-size="12" text-anchor="middle" fill="#404040" letter-spacing="0.1">183.02</text><text x="1380.9" y="2360.1" font-size="12" text-anchor="middle" fill="#404040" letter-spacing="0.1">187.74</text><text x="1436.2" y="2360.1" font-size="12" text-anchor="middle" fill="#404040" letter-spacing="0.1">192.46</text><text x="1491.6" y="2360.1" font-size="12" text-anchor="middle" fill="#404040" letter-spacing="0.1">197.19</text><text x="1546.9" y="2360.1" font-size="12" text-anchor="middle" fill="#404040" letter-spacing="0.1">201.91</text><text x="1602.3" y="2360.1" font-size="12" text-anchor="middle" fill="#404040" letter-spacing="0.1">206.63</text><text x="1657.6" y="2360.1" font-size="12" text-anchor="middle" fill="#404040" letter-spacing="0.1">211.35</text><text x="1712.9" y="2360.1" font-size="12" text-anchor="middle" fill="#404040" letter-spacing="0.1">216.08</text><text x="1768.3" y="2360.1" font-size="12" text-anchor="middle" fill="#404040" letter-spacing="0.1">220.8</text><path d="M1312.9 2342.5V1862.3" stroke="#fcd59a" stroke-width="1.800" stroke-dasharray="5.500 3"/><path d="M1312.9 1854.3l-5.600 15.300 5.600-4.300z" fill="#fbd08c"/><path d="M1312.9 1854.3l5.300 15.300-5.300-4.300z" fill="#f7b955"/><circle cx="1312.9" cy="2342.5" r="3.600" fill="#fbd08c"/><text transform="translate(1327.300,1859.700) rotate(-90)" text-anchor="end" font-size="12" fill="#f5b455">BE: $182.08</text><path d="M385.2 2291.5L399.1 2290.5L412.9 2289.6L426.7 2288.6L440.6 2287.5L454.4 2286.5L468.2 2285.4L482.1 2284.3L495.9 2283.2L509.7 2282.0L523.6 2280.8L537.4 2279.6L551.2 2278.4L565.1 2277.1L578.9 2275.8L592.8 2274.5L606.6 2273.2L620.4 2271.8L634.3 2270.4L648.1 2269.0L661.9 2267.5L675.8 2266.1L689.6 2264.6L703.4 2263.0L717.3 2261.5L731.1 2259.9L744.9 2258.3L758.8 2256.7L772.6 2255.0L786.5 2253.4L800.3 2251.7L814.1 2249.9L828.0 2248.2L841.8 2246.4L855.6 2244.6L869.5 2242.7L883.3 2240.9L897.1 2239.0L911.0 2237.1L924.8 2235.2L938.6 2233.2L952.5 2231.2L966.3 2229.2L980.2 2227.1L994.0 2225.1L1007.8 2223.0L1021.7 2220.9L1035.5 2218.7L1049.3 2216.5L1063.2 2214.4L1077.0 2212.1L1090.8 2209.9L1104.7 2207.6L1118.5 2205.3L1132.3 2203.0L1146.2 2200.6L1160.0 2198.3L1173.8 2195.8L1187.7 2193.4L1201.5 2186.9L1215.4 2180.3L1229.2 2173.7L1243.0 2167.1L1256.9 2160.5L1270.7 2153.9L1284.5 2147.2L1298.4 2140.6L1312.2 2133.9L1326.0 2127.2L1339.9 2120.5L1353.7 2113.8L1367.5 2107.0L1381.4 2100.2L1395.2 2093.5L1409.1 2086.7L1422.9 2079.9L1436.7 2073.0L1450.6 2066.2L1464.4 2059.3L1478.2 2052.4L1492.1 2045.5L1505.9 2038.6L1519.7 2031.7L1533.6 2024.8L1547.4 2017.8L1561.2 2010.8L1575.1 2003.8L1588.9 1996.8L1602.8 1989.8L1616.6 1982.7L1630.4 1975.7L1644.3 1968.6L1658.1 1961.5L1671.9 1954.4L1685.8 1947.2L1699.6 1940.1L1713.4 1932.9L1727.3 1925.7L1741.1 1918.6L1754.9 1911.3L1768.8 1904.1" fill="none" stroke="#9333ea" stroke-width="2" stroke-linejoin="round"/><g fill="#fff" stroke="#9333ea" stroke-width="1.5"><circle cx="385.2" cy="2291.5" r="1.9"/><circle cx="399.1" cy="2290.5" r="1.9"/><circle cx="412.9" cy="2289.6" r="1.9"/><circle cx="426.7" cy="2288.6" r="1.9"/><circle cx="440.6" cy="2287.5" r="1.9"/><circle cx="454.4" cy="2286.5" r="1.9"/><circle cx="468.2" cy="2285.4" r="1.9"/><circle cx="482.1" cy="2284.3" r="1.9"/><circle cx="495.9" cy="2283.2" r="1.9"/><circle cx="509.7" cy="2282.0" r="1.9"/><circle cx="523.6" cy="2280.8" r="1.9"/><circle cx="537.4" cy="2279.6" r="1.9"/><circle cx="551.2" cy="2278.4" r="1.9"/><circle cx="565.1" cy="2277.1" r="1.9"/><circle cx="578.9" cy="2275.8" r="1.9"/><circle cx="592.8" cy="2274.5" r="1.9"/><circle cx="606.6" cy="2273.2" r="1.9"/><circle cx="620.4" cy="2271.8" r="1.9"/><circle cx="634.3" cy="2270.4" r="1.9"/><circle cx="648.1" cy="2269.0" r="1.9"/><circle cx="661.9" cy="2267.5" r="1.9"/><circle cx="675.8" cy="2266.1" r="1.9"/><circle cx="689.6" cy="2264.6" r="1.9"/><circle cx="703.4" cy="2263.0" r="1.9"/><circle cx="717.3" cy="2261.5" r="1.9"/><circle cx="731.1" cy="2259.9" r="1.9"/><circle cx="744.9" cy="2258.3" r="1.9"/><circle cx="758.8" cy="2256.7" r="1.9"/><circle cx="772.6" cy="2255.0" r="1.9"/><circle cx="786.5" cy="2253.4" r="1.9"/><circle cx="800.3" cy="2251.7" r="1.9"/><circle cx="814.1" cy="2249.9" r="1.9"/><circle cx="828.0" cy="2248.2" r="1.9"/><circle cx="841.8" cy="2246.4" r="1.9"/><circle cx="855.6" cy="2244.6" r="1.9"/><circle cx="869.5" cy="2242.7" r="1.9"/><circle cx="883.3" cy="2240.9" r="1.9"/><circle cx="897.1" cy="2239.0" r="1.9"/><circle cx="911.0" cy="2237.1" r="1.9"/><circle cx="924.8" cy="2235.2" r="1.9"/><circle cx="938.6" cy="2233.2" r="1.9"/><circle cx="952.5" cy="2231.2" r="1.9"/><circle cx="966.3" cy="2229.2" r="1.9"/><circle cx="980.2" cy="2227.1" r="1.9"/><circle cx="994.0" cy="2225.1" r="1.9"/><circle cx="1007.8" cy="2223.0" r="1.9"/><circle cx="1021.7" cy="2220.9" r="1.9"/><circle cx="1035.5" cy="2218.7" r="1.9"/><circle cx="1049.3" cy="2216.5" r="1.9"/><circle cx="1063.2" cy="2214.4" r="1.9"/><circle cx="1077.0" cy="2212.1" r="1.9"/><circle cx="1090.8" cy="2209.9" r="1.9"/><circle cx="1104.7" cy="2207.6" r="1.9"/><circle cx="1118.5" cy="2205.3" r="1.9"/><circle cx="1132.3" cy="2203.0" r="1.9"/><circle cx="1146.2" cy="2200.6" r="1.9"/><circle cx="1160.0" cy="2198.3" r="1.9"/><circle cx="1173.8" cy="2195.8" r="1.9"/><circle cx="1187.7" cy="2193.4" r="1.9"/><circle cx="1201.5" cy="2186.9" r="1.9"/><circle cx="1215.4" cy="2180.3" r="1.9"/><circle cx="1229.2" cy="2173.7" r="1.9"/><circle cx="1243.0" cy="2167.1" r="1.9"/><circle cx="1256.9" cy="2160.5" r="1.9"/><circle cx="1270.7" cy="2153.9" r="1.9"/><circle cx="1284.5" cy="2147.2" r="1.9"/><circle cx="1298.4" cy="2140.6" r="1.9"/><circle cx="1312.2" cy="2133.9" r="1.9"/><circle cx="1326.0" cy="2127.2" r="1.9"/><circle cx="1339.9" cy="2120.5" r="1.9"/><circle cx="1353.7" cy="2113.8" r="1.9"/><circle cx="1367.5" cy="2107.0" r="1.9"/><circle cx="1381.4" cy="2100.2" r="1.9"/><circle cx="1395.2" cy="2093.5" r="1.9"/><circle cx="1409.1" cy="2086.7" r="1.9"/><circle cx="1422.9" cy="2079.9" r="1.9"/><circle cx="1436.7" cy="2073.0" r="1.9"/><circle cx="1450.6" cy="2066.2" r="1.9"/><circle cx="1464.4" cy="2059.3" r="1.9"/><circle cx="1478.2" cy="2052.4" r="1.9"/><circle cx="1492.1" cy="2045.5" r="1.9"/><circle cx="1505.9" cy="2038.6" r="1.9"/><circle cx="1519.7" cy="2031.7" r="1.9"/><circle cx="1533.6" cy="2024.8" r="1.9"/><circle cx="1547.4" cy="2017.8" r="1.9"/><circle cx="1561.2" cy="2010.8" r="1.9"/><circle cx="1575.1" cy="2003.8" r="1.9"/><circle cx="1588.9" cy="1996.8" r="1.9"/><circle cx="1602.8" cy="1989.8" r="1.9"/><circle cx="1616.6" cy="1982.7" r="1.9"/><circle cx="1630.4" cy="1975.7" r="1.9"/><circle cx="1644.3" cy="1968.6" r="1.9"/><circle cx="1658.1" cy="1961.5" r="1.9"/><circle cx="1671.9" cy="1954.4" r="1.9"/><circle cx="1685.8" cy="1947.2" r="1.9"/><circle cx="1699.6" cy="1940.1" r="1.9"/><circle cx="1713.4" cy="1932.9" r="1.9"/><circle cx="1727.3" cy="1925.7" r="1.9"/><circle cx="1741.1" cy="1918.6" r="1.9"/><circle cx="1754.9" cy="1911.3" r="1.9"/><circle cx="1768.8" cy="1904.1" r="1.9"/></g><path d="M385.2 2310.4L399.1 2310.4L412.9 2310.4L426.7 2310.4L440.6 2310.4L454.4 2310.4L468.2 2310.4L482.1 2310.4L495.9 2310.4L509.7 2310.4L523.6 2310.4L537.4 2310.4L551.2 2310.4L565.1 2310.4L578.9 2310.4L592.8 2310.4L606.6 2310.4L620.4 2310.4L634.3 2310.4L648.1 2310.4L661.9 2310.4L675.8 2310.4L689.6 2310.4L703.4 2310.4L717.3 2310.4L731.1 2310.4L744.9 2310.4L758.8 2310.4L772.6 2310.4L786.5 2310.4L800.3 2310.4L814.1 2310.4L828.0 2310.4L841.8 2310.4L855.6 2310.4L869.5 2310.4L883.3 2310.4L897.1 2310.4L911.0 2310.4L924.8 2310.4L938.6 2310.4L952.5 2310.4L966.3 2310.4L980.2 2310.4L994.0 2310.4L1007.8 2310.4L1021.7 2310.4L1035.5 2310.4L1049.3 2310.4L1063.2 2310.4L1077.0 2310.4L1090.8 2310.4L1104.7 2310.4L1118.5 2310.4L1132.3 2310.4L1146.2 2310.4L1160.0 2310.4L1173.8 2310.4L1187.7 2310.4L1201.5 2309.0L1215.4 2305.0L1229.2 2300.8L1243.0 2296.6L1256.9 2292.4L1270.7 2288.2L1284.5 2283.9L1298.4 2279.7L1312.2 2275.5L1326.0 2271.3L1339.9 2267.1L1353.7 2258.9L1367.5 2250.6L1381.4 2242.4L1395.2 2234.2L1409.1 2225.9L1422.9 2217.7L1436.7 2209.5L1450.6 2201.2L1464.4 2193.0L1478.2 2184.8L1492.1 2176.5L1505.9 2168.3L1519.7 2160.1L1533.6 2151.8L1547.4 2143.6L1561.2 2135.4L1575.1 2127.2L1588.9 2118.9L1602.8 2110.7L1616.6 2102.5L1630.4 2094.2L1644.3 2086.0L1658.1 2077.8L1671.9 2069.5L1685.8 2061.3L1699.6 2053.1L1713.4 2044.8L1727.3 2036.6L1741.1 2028.4L1754.9 2020.1L1768.8 2011.9" fill="none" stroke="#3b82f6" stroke-width="2" stroke-linejoin="round"/><g fill="#fff" stroke="#3b82f6" stroke-width="1.5"><circle cx="385.2" cy="2310.4" r="1.9"/><circle cx="399.1" cy="2310.4" r="1.9"/><circle cx="412.9" cy="2310.4" r="1.9"/><circle cx="426.7" cy="2310.4" r="1.9"/><circle cx="440.6" cy="2310.4" r="1.9"/><circle cx="454.4" cy="2310.4" r="1.9"/><circle cx="468.2" cy="2310.4" r="1.9"/><circle cx="482.1" cy="2310.4" r="1.9"/><circle cx="495.9" cy="2310.4" r="1.9"/><circle cx="509.7" cy="2310.4" r="1.9"/><circle cx="523.6" cy="2310.4" r="1.9"/><circle cx="537.4" cy="2310.4" r="1.9"/><circle cx="551.2" cy="2310.4" r="1.9"/><circle cx="565.1" cy="2310.4" r="1.9"/><circle cx="578.9" cy="2310.4" r="1.9"/><circle cx="592.8" cy="2310.4" r="1.9"/><circle cx="606.6" cy="2310.4" r="1.9"/><circle cx="620.4" cy="2310.4" r="1.9"/><circle cx="634.3" cy="2310.4" r="1.9"/><circle cx="648.1" cy="2310.4" r="1.9"/><circle cx="661.9" cy="2310.4" r="1.9"/><circle cx="675.8" cy="2310.4" r="1.9"/><circle cx="689.6" cy="2310.4" r="1.9"/><circle cx="703.4" cy="2310.4" r="1.9"/><circle cx="717.3" cy="2310.4" r="1.9"/><circle cx="731.1" cy="2310.4" r="1.9"/><circle cx="744.9" cy="2310.4" r="1.9"/><circle cx="758.8" cy="2310.4" r="1.9"/><circle cx="772.6" cy="2310.4" r="1.9"/><circle cx="786.5" cy="2310.4" r="1.9"/><circle cx="800.3" cy="2310.4" r="1.9"/><circle cx="814.1" cy="2310.4" r="1.9"/><circle cx="828.0" cy="2310.4" r="1.9"/><circle cx="841.8" cy="2310.4" r="1.9"/><circle cx="855.6" cy="2310.4" r="1.9"/><circle cx="869.5" cy="2310.4" r="1.9"/><circle cx="883.3" cy="2310.4" r="1.9"/><circle cx="897.1" cy="2310.4" r="1.9"/><circle cx="911.0" cy="2310.4" r="1.9"/><circle cx="924.8" cy="2310.4" r="1.9"/><circle cx="938.6" cy="2310.4" r="1.9"/><circle cx="952.5" cy="2310.4" r="1.9"/><circle cx="966.3" cy="2310.4" r="1.9"/><circle cx="980.2" cy="2310.4" r="1.9"/><circle cx="994.0" cy="2310.4" r="1.9"/><circle cx="1007.8" cy="2310.4" r="1.9"/><circle cx="1021.7" cy="2310.4" r="1.9"/><circle cx="1035.5" cy="2310.4" r="1.9"/><circle cx="1049.3" cy="2310.4" r="1.9"/><circle cx="1063.2" cy="2310.4" r="1.9"/><circle cx="1077.0" cy="2310.4" r="1.9"/><circle cx="1090.8" cy="2310.4" r="1.9"/><circle cx="1104.7" cy="2310.4" r="1.9"/><circle cx="1118.5" cy="2310.4" r="1.9"/><circle cx="1132.3" cy="2310.4" r="1.9"/><circle cx="1146.2" cy="2310.4" r="1.9"/><circle cx="1160.0" cy="2310.4" r="1.9"/><circle cx="1173.8" cy="2310.4" r="1.9"/><circle cx="1187.7" cy="2310.4" r="1.9"/><circle cx="1201.5" cy="2309.0" r="1.9"/><circle cx="1215.4" cy="2305.0" r="1.9"/><circle cx="1229.2" cy="2300.8" r="1.9"/><circle cx="1243.0" cy="2296.6" r="1.9"/><circle cx="1256.9" cy="2292.4" r="1.9"/><circle cx="1270.7" cy="2288.2" r="1.9"/><circle cx="1284.5" cy="2283.9" r="1.9"/><circle cx="1298.4" cy="2279.7" r="1.9"/><circle cx="1312.2" cy="2275.5" r="1.9"/><circle cx="1326.0" cy="2271.3" r="1.9"/><circle cx="1339.9" cy="2267.1" r="1.9"/><circle cx="1353.7" cy="2258.9" r="1.9"/><circle cx="1367.5" cy="2250.6" r="1.9"/><circle cx="1381.4" cy="2242.4" r="1.9"/><circle cx="1395.2" cy="2234.2" r="1.9"/><circle cx="1409.1" cy="2225.9" r="1.9"/><circle cx="1422.9" cy="2217.7" r="1.9"/><circle cx="1436.7" cy="2209.5" r="1.9"/><circle cx="1450.6" cy="2201.2" r="1.9"/><circle cx="1464.4" cy="2193.0" r="1.9"/><circle cx="1478.2" cy="2184.8" r="1.9"/><circle cx="1492.1" cy="2176.5" r="1.9"/><circle cx="1505.9" cy="2168.3" r="1.9"/><circle cx="1519.7" cy="2160.1" r="1.9"/><circle cx="1533.6" cy="2151.8" r="1.9"/><circle cx="1547.4" cy="2143.6" r="1.9"/><circle cx="1561.2" cy="2135.4" r="1.9"/><circle cx="1575.1" cy="2127.2" r="1.9"/><circle cx="1588.9" cy="2118.9" r="1.9"/><circle cx="1602.8" cy="2110.7" r="1.9"/><circle cx="1616.6" cy="2102.5" r="1.9"/><circle cx="1630.4" cy="2094.2" r="1.9"/><circle cx="1644.3" cy="2086.0" r="1.9"/><circle cx="1658.1" cy="2077.8" r="1.9"/><circle cx="1671.9" cy="2069.5" r="1.9"/><circle cx="1685.8" cy="2061.3" r="1.9"/><circle cx="1699.6" cy="2053.1" r="1.9"/><circle cx="1713.4" cy="2044.8" r="1.9"/><circle cx="1727.3" cy="2036.6" r="1.9"/><circle cx="1741.1" cy="2028.4" r="1.9"/><circle cx="1754.9" cy="2020.1" r="1.9"/><circle cx="1768.8" cy="2011.9" r="1.9"/></g><path d="M897.1 2342.5V1858.3" stroke="#10b981" stroke-width="2"/><path d="M897.1 1854.3l-5.300 15.600 5.300-4.300 5.300 4.300z" fill="#10b981"/><circle cx="897.1" cy="2342.5" r="3.600" fill="#10b981"/><text transform="translate(891,1859.8) rotate(-90)" text-anchor="end" font-size="12" fill="#4b5563" letter-spacing="0.16">Current: $146.76</text><text x="1088.0" y="1819.3" font-size="12" text-anchor="middle" fill="#4d4d4d" font-weight="bold" letter-spacing="0.1">Portfolio Payoff Diagram - NVDA</text><path d="M982.4 1836.200h25.200" stroke="#9333ea" stroke-width="2"/><circle cx="995.0" cy="1836.200" r="5.100" fill="#fff" stroke="#9333ea" stroke-width="2"/><text x="1013.5" y="1840.1" font-size="12" text-anchor="start" fill="#404040" letter-spacing="0.27">T+0 (Today)</text><path d="M1092.3 1836.200h25.200" stroke="#3b82f6" stroke-width="2"/><circle cx="1104.8999999999999" cy="1836.200" r="5.100" fill="#fff" stroke="#3b82f6" stroke-width="2"/><text x="1123.4" y="1840.1" font-size="12" text-anchor="start" fill="#404040" letter-spacing="0.27">At Expiration</text></svg>
<div style="position:absolute;left:272.0px;top:2452.0px;width:4.0px;height:65.0px;background:#d1d5db;"></div>
<div class="t" style="top:2469.5px;line-height:28px;font-size:20px;letter-spacing:0.59px;left:292.7px;-webkit-text-stroke:0.35px #111827;">Capital Reserved Analysis</div>
<div class="t" style="top:2474.0px;line-height:20px;font-size:14px;color:#6b7280;letter-spacing:0.37px;left:549.4px;">(Cash-Secured Puts / Wheel Strategy)</div>
<svg style="position:absolute;left:809.7px;top:2474.3px;" width="19" height="19" viewBox="0 0 19 19"><circle cx="9.5" cy="9.5" r="9.5" fill="#9ca3af"/><text x="9.5" y="14.15" text-anchor="middle" font-family="Liberation Sans, sans-serif" font-weight="bold" font-size="12.9" fill="#fff">?</text></svg>
<div style="position:absolute;left:272.0px;top:2525.0px;width:396.0px;height:68.0px;background:#fff;border-radius:8px;box-shadow:0 1px 3px rgba(0,0,0,.09),0 1px 2px rgba(0,0,0,.05);"></div>
<div class="t" style="top:2541.3px;line-height:32px;font-size:25px;font-weight:bold;letter-spacing:0.10px;left:288.6px;">$277.2K</div>
<div class="t" style="top:2541.0px;line-height:20px;font-size:14px;color:#6b7280;letter-spacing:0.42px;left:404.8px;-webkit-text-stroke:0.2px #6b7280;">Total Capital Reserved</div>
<div class="t" style="top:2561.0px;line-height:16px;font-size:12px;color:#6b7280;letter-spacing:0.26px;left:404.8px;">Open CSP positions</div>
<div style="position:absolute;left:684.0px;top:2525.0px;width:396.0px;height:68.0px;background:#fff;border-radius:8px;box-shadow:0 1px 3px rgba(0,0,0,.09),0 1px 2px rgba(0,0,0,.05);"></div>
<div class="t" style="top:2541.3px;line-height:32px;font-size:25px;font-weight:bold;letter-spacing:-0.10px;left:700.6px;">$12.5K</div>
<div class="t" style="top:2541.0px;line-height:20px;font-size:14px;color:#6b7280;letter-spacing:0.48px;left:801.6px;-webkit-text-stroke:0.2px #6b7280;">Premium Collected</div>
<div class="t" style="top:2561.0px;line-height:16px;font-size:12px;color:#6b7280;letter-spacing:0.41px;left:801.6px;">($0.00 closed YTD)</div>
<div style="position:absolute;left:1096.0px;top:2525.0px;width:396.0px;height:68.0px;background:#fff;border-radius:8px;box-shadow:0 1px 3px rgba(0,0,0,.09),0 1px 2px rgba(0,0,0,.05);"></div>
<div class="t" style="top:2541.3px;line-height:32px;font-size:25px;font-weight:bold;letter-spacing:0.76px;left:1112.6px;">102.00%</div>
<div class="t" style="top:2541.0px;line-height:20px;font-size:14px;color:#6b7280;letter-spacing:0.50px;left:1237.6px;-webkit-text-stroke:0.2px #6b7280;">Weighted Avg APY</div>
<div class="t" style="top:2561.0px;line-height:16px;font-size:12px;color:#6b7280;letter-spacing:0.35px;left:1237.6px;">Annualized return</div>
<div style="position:absolute;left:1508.0px;top:2525.0px;width:396.0px;height:68.0px;background:#fff;border-radius:8px;box-shadow:0 1px 3px rgba(0,0,0,.09),0 1px 2px rgba(0,0,0,.05);"></div>
<div class="t" style="top:2541.3px;line-height:32px;font-size:25px;font-weight:bold;letter-spacing:0.07px;left:1524.6px;">Dec 19, 2025</div>
<div class="t" style="top:2541.0px;line-height:20px;font-size:14px;color:#6b7280;letter-spacing:0.47px;left:1696.6px;-webkit-text-stroke:0.2px #6b7280;">Next Expiration</div>
<div class="t" style="top:2561.0px;line-height:16px;font-size:12px;color:#6b7280;letter-spacing:0.40px;left:1696.6px;">$236.3K releasing</div>
<div style="position:absolute;left:272.0px;top:2617.0px;width:1632.0px;height:732.0px;background:#fff;border-radius:8px;box-shadow:0 1px 3px rgba(0,0,0,.09),0 1px 2px rgba(0,0,0,.05);"></div>
<div class="t" style="top:2640.5px;line-height:28px;font-size:18px;font-weight:bold;letter-spacing:-0.02px;left:296.6px;">Capital Reserved by Expiration</div>
<svg style="position:absolute;left:570.6px;top:2645.0px;" width="19" height="19" viewBox="0 0 19 19"><circle cx="9.5" cy="9.5" r="9.5" fill="#9ca3af"/><text x="9.5" y="14.15" text-anchor="middle" font-family="Liberation Sans, sans-serif" font-weight="bold" font-size="12.9" fill="#fff">?</text></svg>
<div style="position:absolute;left:296.0px;top:2685.0px;width:1584.0px;height:640.0px;border:1px solid #bcc5d3;box-sizing:border-box;background:#fff;"></div>
<div style="position:absolute;left:297.0px;top:2686.0px;width:1545.9px;height:48.5px;background:#f8fafc;border-bottom:1px solid #bcc5d3;box-sizing:border-box;"></div>
<div style="position:absolute;left:328.0px;top:2686.0px;width:1.0px;height:47.5px;background:#bcc5d3;"></div>
<div class="t" style="top:2700.3px;line-height:20px;font-size:14px;font-weight:bold;color:#181d1f;letter-spacing:0.12px;left:345.3px;">Expiry</div>
<div class="t" style="top:2700.3px;line-height:20px;font-size:14px;font-weight:bold;color:#181d1f;letter-spacing:0.12px;left:495.3px;">Ticker</div>
<div class="t" style="top:2700.3px;line-height:20px;font-size:14px;font-weight:bold;color:#181d1f;letter-spacing:0.12px;left:645.3px;">Contra...</div>
<div class="t" style="top:2700.3px;line-height:20px;font-size:14px;font-weight:bold;color:#181d1f;letter-spacing:0.12px;left:755.3px;">Strike</div>
<div class="t" style="top:2700.3px;line-height:20px;font-size:14px;font-weight:bold;color:#181d1f;letter-spacing:0.12px;left:855.3px;">Premium</div>
<div class="t" style="top:2700.3px;line-height:20px;font-size:14px;font-weight:bold;color:#181d1f;letter-spacing:0.12px;left:975.3px;">Capital Rese...</div>
<div class="t" style="top:2700.3px;line-height:20px;font-size:14px;font-weight:bold;color:#181d1f;letter-spacing:0.12px;left:1125.3px;">ROI %</div>
<div class="t" style="top:2700.3px;line-height:20px;font-size:14px;font-weight:bold;color:#181d1f;letter-spacing:0.12px;left:1225.3px;">Annualized R...</div>
<div class="t" style="top:2700.3px;line-height:20px;font-size:14px;font-weight:bold;color:#181d1f;letter-spacing:0.12px;left:1375.3px;">DTE</div>
<div style="position:absolute;left:326.0px;top:2703.0px;width:2.0px;height:14.0px;background:#c3cbd6;"></div>
<div style="position:absolute;left:476.0px;top:2703.0px;width:2.0px;height:14.0px;background:#c3cbd6;"></div>
<div style="position:absolute;left:626.0px;top:2703.0px;width:2.0px;height:14.0px;background:#c3cbd6;"></div>
<div style="position:absolute;left:736.0px;top:2703.0px;width:2.0px;height:14.0px;background:#c3cbd6;"></div>
<div style="position:absolute;left:836.0px;top:2703.0px;width:2.0px;height:14.0px;background:#c3cbd6;"></div>
<div style="position:absolute;left:956.0px;top:2703.0px;width:2.0px;height:14.0px;background:#c3cbd6;"></div>
<div style="position:absolute;left:1106.0px;top:2703.0px;width:2.0px;height:14.0px;background:#c3cbd6;"></div>
<div style="position:absolute;left:1206.0px;top:2703.0px;width:2.0px;height:14.0px;background:#c3cbd6;"></div>
<div style="position:absolute;left:1356.0px;top:2703.0px;width:2.0px;height:14.0px;background:#c3cbd6;"></div>
<div style="position:absolute;left:1446.0px;top:2703.0px;width:2.0px;height:14.0px;background:#c3cbd6;"></div>
<div style="position:absolute;left:297.0px;top:2775.8px;width:1151.0px;height:1.0px;background:#dde2eb;"></div>
<svg style="position:absolute;left:304.0px;top:2745.9px;" width="18" height="18" viewBox="0 0 18 18"><circle cx="9" cy="9" r="7.200" fill="none" stroke="#1f2937" stroke-width="1.500"/><path d="M9 1.800v3.200M9 13v3.200M1.800 9h3.200M13 9h3.200" stroke="#1f2937" stroke-width="1.500"/></svg>
<div class="t" style="top:2746.3px;line-height:20px;font-size:14px;color:#181d1f;letter-spacing:0.22px;left:345.2px;">Dec 19, 2025</div>
<div class="t" style="top:2746.3px;line-height:20px;font-size:14px;font-weight:bold;color:#181d1f;letter-spacing:-0.10px;left:495.3px;">F</div>
<div class="t" style="top:2746.3px;line-height:20px;font-size:14px;color:#181d1f;letter-spacing:0.50px;left:645.3px;">5</div>
<div class="t" style="top:2746.3px;line-height:20px;font-size:14px;color:#181d1f;letter-spacing:1.00px;left:755.3px;">$15.00</div>
<div class="t" style="top:2746.3px;line-height:20px;font-size:14px;font-weight:bold;color:#16a34a;letter-spacing:0.50px;left:855.3px;">$395.00</div>
<div class="t" style="top:2746.3px;line-height:20px;font-size:14px;font-weight:bold;color:#181d1f;letter-spacing:0.80px;left:975.3px;">$7,500.00</div>
<div class="t" style="top:2746.3px;line-height:20px;font-size:14px;color:#181d1f;letter-spacing:0.80px;left:1125.3px;">5.27%</div>
<div class="t" style="top:2746.3px;line-height:20px;font-size:14px;font-weight:bold;color:#16a34a;letter-spacing:0.70px;left:1225.3px;">83.58%</div>
<div class="t" style="top:2746.3px;line-height:20px;font-size:14px;color:#6b7280;letter-spacing:0.30px;left:1375.3px;">19</div>
<div style="position:absolute;left:297.0px;top:2817.8px;width:1151.0px;height:1.0px;background:#dde2eb;"></div>
<svg style="position:absolute;left:304.0px;top:2787.9px;" width="18" height="18" viewBox="0 0 18 18"><circle cx="9" cy="9" r="7.200" fill="none" stroke="#1f2937" stroke-width="1.500"/><path d="M9 1.800v3.200M9 13v3.200M1.800 9h3.200M13 9h3.200" stroke="#1f2937" stroke-width="1.500"/></svg>
<div class="t" style="top:2788.3px;line-height:20px;font-size:14px;color:#181d1f;letter-spacing:0.22px;left:345.2px;">Dec 19, 2025</div>
<div class="t" style="top:2788.3px;line-height:20px;font-size:14px;font-weight:bold;color:#181d1f;letter-spacing:-0.10px;left:495.3px;">RIVN</div>
<div class="t" style="top:2788.3px;line-height:20px;font-size:14px;color:#181d1f;letter-spacing:0.50px;left:645.3px;">3</div>
<div class="t" style="top:2788.3px;line-height:20px;font-size:14px;color:#181d1f;letter-spacing:1.00px;left:755.3px;">$17.00</div>
<div class="t" style="top:2788.3px;line-height:20px;font-size:14px;font-weight:bold;color:#16a34a;letter-spacing:0.50px;left:855.3px;">$1,341.00</div>
<div class="t" style="top:2788.3px;line-height:20px;font-size:14px;font-weight:bold;color:#181d1f;letter-spacing:0.80px;left:975.3px;">$5,100.00</div>
<div class="t" style="top:2788.3px;line-height:20px;font-size:14px;color:#181d1f;letter-spacing:0.80px;left:1125.3px;">26.29%</div>
<div class="t" style="top:2788.3px;line-height:20px;font-size:14px;font-weight:bold;color:#16a34a;letter-spacing:0.70px;left:1225.3px;">417.28%</div>
<div class="t" style="top:2788.3px;line-height:20px;font-size:14px;color:#6b7280;letter-spacing:0.30px;left:1375.3px;">19</div>
<div style="position:absolute;left:297.0px;top:2859.8px;width:1151.0px;height:1.0px;background:#dde2eb;"></div>
<svg style="position:absolute;left:304.0px;top:2829.9px;" width="18" height="18" viewBox="0 0 18 18"><circle cx="9" cy="9" r="7.200" fill="none" stroke="#1f2937" stroke-width="1.500"/><path d="M9 1.800v3.200M9 13v3.200M1.800 9h3.200M13 9h3.200" stroke="#1f2937" stroke-width="1.500"/></svg>
<div class="t" style="top:2830.3px;line-height:20px;font-size:14px;color:#181d1f;letter-spacing:0.22px;left:345.2px;">Dec 19, 2025</div>
<div class="t" style="top:2830.3px;line-height:20px;font-size:14px;font-weight:bold;color:#181d1f;letter-spacing:-0.10px;left:495.3px;">MSFT</div>
<div class="t" style="top:2830.3px;line-height:20px;font-size:14px;color:#181d1f;letter-spacing:0.50px;left:645.3px;">1</div>
<div class="t" style="top:2830.3px;line-height:20px;font-size:14px;color:#181d1f;letter-spacing:1.00px;left:755.3px;">$435.00</div>
<div class="t" style="top:2830.3px;line-height:20px;font-size:14px;font-weight:bold;color:#16a34a;letter-spacing:0.50px;left:855.3px;">$1,218.00</div>
<div class="t" style="top:2830.3px;line-height:20px;font-size:14px;font-weight:bold;color:#181d1f;letter-spacing:0.80px;left:975.3px;">$43,500.00</div>
<div class="t" style="top:2830.3px;line-height:20px;font-size:14px;color:#181d1f;letter-spacing:0.80px;left:1125.3px;">2.80%</div>
<div class="t" style="top:2830.3px;line-height:20px;font-size:14px;font-weight:bold;color:#16a34a;letter-spacing:0.70px;left:1225.3px;">51.10%</div>
<div class="t" style="top:2830.3px;line-height:20px;font-size:14px;color:#6b7280;letter-spacing:0.30px;left:1375.3px;">19</div>
<div style="position:absolute;left:297.0px;top:2901.8px;width:1151.0px;height:1.0px;background:#dde2eb;"></div>
<svg style="position:absolute;left:304.0px;top:2871.9px;" width="18" height="18" viewBox="0 0 18 18"><circle cx="9" cy="9" r="7.200" fill="none" stroke="#1f2937" stroke-width="1.500"/><path d="M9 1.800v3.200M9 13v3.200M1.800 9h3.200M13 9h3.200" stroke="#1f2937" stroke-width="1.500"/></svg>
<div class="t" style="top:2872.3px;line-height:20px;font-size:14px;color:#181d1f;letter-spacing:0.22px;left:345.2px;">Dec 19, 2025</div>
<div class="t" style="top:2872.3px;line-height:20px;font-size:14px;font-weight:bold;color:#181d1f;letter-spacing:-0.10px;left:495.3px;">AMD</div>
<div class="t" style="top:2872.3px;line-height:20px;font-size:14px;color:#181d1f;letter-spacing:0.50px;left:645.3px;">2</div>
<div class="t" style="top:2872.3px;line-height:20px;font-size:14px;color:#181d1f;letter-spacing:1.00px;left:755.3px;">$215.00</div>
<div class="t" style="top:2872.3px;line-height:20px;font-size:14px;font-weight:bold;color:#16a34a;letter-spacing:0.50px;left:855.3px;">$1,942.00</div>
<div class="t" style="top:2872.3px;line-height:20px;font-size:14px;font-weight:bold;color:#181d1f;letter-spacing:0.80px;left:975.3px;">$43,000.00</div>
<div class="t" style="top:2872.3px;line-height:20px;font-size:14px;color:#181d1f;letter-spacing:0.80px;left:1125.3px;">4.52%</div>
<div class="t" style="top:2872.3px;line-height:20px;font-size:14px;font-weight:bold;color:#16a34a;letter-spacing:0.70px;left:1225.3px;">91.58%</div>
<div class="t" style="top:2872.3px;line-height:20px;font-size:14px;color:#6b7280;letter-spacing:0.30px;left:1375.3px;">19</div>
<div style="position:absolute;left:297.0px;top:2943.8px;width:1151.0px;height:1.0px;background:#dde2eb;"></div>
<svg style="position:absolute;left:304.0px;top:2913.9px;" width="18" height="18" viewBox="0 0 18 18"><circle cx="9" cy="9" r="7.200" fill="none" stroke="#1f2937" stroke-width="1.500"/><path d="M9 1.800v3.200M9 13v3.200M1.800 9h3.200M13 9h3.200" stroke="#1f2937" stroke-width="1.500"/></svg>
<div class="t" style="top:2914.3px;line-height:20px;font-size:14px;color:#181d1f;letter-spacing:0.22px;left:345.2px;">Dec 19, 2025</div>
<div class="t" style="top:2914.3px;line-height:20px;font-size:14px;font-weight:bold;color:#181d1f;letter-spacing:-0.10px;left:495.3px;">QQQ</div>
<div class="t" style="top:2914.3px;line-height:20px;font-size:14px;color:#181d1f;letter-spacing:0.50px;left:645.3px;">2</div>
<div class="t" style="top:2914.3px;line-height:20px;font-size:14px;color:#181d1f;letter-spacing:1.00px;left:755.3px;">$590.00</div>
<div class="t" style="top:2914.3px;line-height:20px;font-size:14px;font-weight:bold;color:#16a34a;letter-spacing:0.50px;left:855.3px;">$4,676.00</div>
<div class="t" style="top:2914.3px;line-height:20px;font-size:14px;font-weight:bold;color:#181d1f;letter-spacing:0.80px;left:975.3px;">$118,000.00</div>
<div class="t" style="top:2914.3px;line-height:20px;font-size:14px;color:#181d1f;letter-spacing:0.80px;left:1125.3px;">3.96%</div>
<div class="t" style="top:2914.3px;line-height:20px;font-size:14px;font-weight:bold;color:#16a34a;letter-spacing:0.70px;left:1225.3px;">90.40%</div>
<div class="t" style="top:2914.3px;line-height:20px;font-size:14px;color:#6b7280;letter-spacing:0.30px;left:1375.3px;">19</div>
<div style="position:absolute;left:297.0px;top:2985.8px;width:1151.0px;height:1.0px;background:#dde2eb;"></div>
<svg style="position:absolute;left:304.0px;top:2955.9px;" width="18" height="18" viewBox="0 0 18 18"><circle cx="9" cy="9" r="7.200" fill="none" stroke="#1f2937" stroke-width="1.500"/><path d="M9 1.800v3.200M9 13v3.200M1.800 9h3.200M13 9h3.200" stroke="#1f2937" stroke-width="1.500"/></svg>
<div class="t" style="top:2956.3px;line-height:20px;font-size:14px;color:#181d1f;letter-spacing:0.22px;left:345.2px;">Dec 19, 2025</div>
<div class="t" style="top:2956.3px;line-height:20px;font-size:14px;font-weight:bold;color:#181d1f;letter-spacing:-0.10px;left:495.3px;">SOFI</div>
<div class="t" style="top:2956.3px;line-height:20px;font-size:14px;color:#181d1f;letter-spacing:0.50px;left:645.3px;">1</div>
<div class="t" style="top:2956.3px;line-height:20px;font-size:14px;color:#181d1f;letter-spacing:1.00px;left:755.3px;">$25.00</div>
<div class="t" style="top:2956.3px;line-height:20px;font-size:14px;font-weight:bold;color:#16a34a;letter-spacing:0.50px;left:855.3px;">$129.00</div>
<div class="t" style="top:2956.3px;line-height:20px;font-size:14px;font-weight:bold;color:#181d1f;letter-spacing:0.80px;left:975.3px;">$2,500.00</div>
<div class="t" style="top:2956.3px;line-height:20px;font-size:14px;color:#181d1f;letter-spacing:0.80px;left:1125.3px;">5.16%</div>
<div class="t" style="top:2956.3px;line-height:20px;font-size:14px;font-weight:bold;color:#16a34a;letter-spacing:0.70px;left:1225.3px;">188.34%</div>
<div class="t" style="top:2956.3px;line-height:20px;font-size:14px;color:#6b7280;letter-spacing:0.30px;left:1375.3px;">19</div>
<div style="position:absolute;left:297.0px;top:3027.8px;width:1151.0px;height:1.0px;background:#dde2eb;"></div>
<svg style="position:absolute;left:304.0px;top:2997.9px;" width="18" height="18" viewBox="0 0 18 18"><circle cx="9" cy="9" r="7.200" fill="none" stroke="#1f2937" stroke-width="1.500"/><path d="M9 1.800v3.200M9 13v3.200M1.800 9h3.200M13 9h3.200" stroke="#1f2937" stroke-width="1.500"/></svg>
<div class="t" style="top:2998.3px;line-height:20px;font-size:14px;color:#181d1f;letter-spacing:0.22px;left:345.2px;">Dec 19, 2025</div>
<div class="t" style="top:2998.3px;line-height:20px;font-size:14px;font-weight:bold;color:#181d1f;letter-spacing:-0.10px;left:495.3px;">UBER</div>
<div class="t" style="top:2998.3px;line-height:20px;font-size:14px;color:#181d1f;letter-spacing:0.50px;left:645.3px;">1</div>
<div class="t" style="top:2998.3px;line-height:20px;font-size:14px;color:#181d1f;letter-spacing:1.00px;left:755.3px;">$82.00</div>
<div class="t" style="top:2998.3px;line-height:20px;font-size:14px;font-weight:bold;color:#16a34a;letter-spacing:0.50px;left:855.3px;">$310.00</div>
<div class="t" style="top:2998.3px;line-height:20px;font-size:14px;font-weight:bold;color:#181d1f;letter-spacing:0.80px;left:975.3px;">$8,200.00</div>
<div class="t" style="top:2998.3px;line-height:20px;font-size:14px;color:#181d1f;letter-spacing:0.80px;left:1125.3px;">3.78%</div>
<div class="t" style="top:2998.3px;line-height:20px;font-size:14px;font-weight:bold;color:#16a34a;letter-spacing:0.70px;left:1225.3px;">153.32%</div>
<div class="t" style="top:2998.3px;line-height:20px;font-size:14px;color:#6b7280;letter-spacing:0.30px;left:1375.3px;">19</div>
<div style="position:absolute;left:297.0px;top:3069.8px;width:1151.0px;height:1.0px;background:#dde2eb;"></div>
<svg style="position:absolute;left:304.0px;top:3039.9px;" width="18" height="18" viewBox="0 0 18 18"><circle cx="9" cy="9" r="7.200" fill="none" stroke="#1f2937" stroke-width="1.500"/><path d="M9 1.800v3.200M9 13v3.200M1.800 9h3.200M13 9h3.200" stroke="#1f2937" stroke-width="1.500"/></svg>
<div class="t" style="top:3040.3px;line-height:20px;font-size:14px;color:#181d1f;letter-spacing:0.22px;left:345.2px;">Dec 19, 2025</div>
<div class="t" style="top:3040.3px;line-height:20px;font-size:14px;font-weight:bold;color:#181d1f;letter-spacing:-0.10px;left:495.3px;">TGT</div>
<div class="t" style="top:3040.3px;line-height:20px;font-size:14px;color:#181d1f;letter-spacing:0.50px;left:645.3px;">1</div>
<div class="t" style="top:3040.3px;line-height:20px;font-size:14px;color:#181d1f;letter-spacing:1.00px;left:755.3px;">$85.00</div>
<div class="t" style="top:3040.3px;line-height:20px;font-size:14px;font-weight:bold;color:#16a34a;letter-spacing:0.50px;left:855.3px;">$580.00</div>
<div class="t" style="top:3040.3px;line-height:20px;font-size:14px;font-weight:bold;color:#181d1f;letter-spacing:0.80px;left:975.3px;">$8,500.00</div>
<div class="t" style="top:3040.3px;line-height:20px;font-size:14px;color:#181d1f;letter-spacing:0.80px;left:1125.3px;">6.82%</div>
<div class="t" style="top:3040.3px;line-height:20px;font-size:14px;font-weight:bold;color:#16a34a;letter-spacing:0.70px;left:1225.3px;">415.10%</div>
<div class="t" style="top:3040.3px;line-height:20px;font-size:14px;color:#6b7280;letter-spacing:0.30px;left:1375.3px;">19</div>
<div style="position:absolute;left:297.0px;top:3111.8px;width:1151.0px;height:1.0px;background:#dde2eb;"></div>
<svg style="position:absolute;left:304.0px;top:3081.9px;" width="18" height="18" viewBox="0 0 18 18"><circle cx="9" cy="9" r="7.200" fill="none" stroke="#1f2937" stroke-width="1.500"/><path d="M9 1.800v3.200M9 13v3.200M1.800 9h3.200M13 9h3.200" stroke="#1f2937" stroke-width="1.500"/></svg>
<div class="t" style="top:3082.3px;line-height:20px;font-size:14px;color:#181d1f;letter-spacing:0.22px;left:345.2px;">Jan 16, 2026</div>
<div class="t" style="top:3082.3px;line-height:20px;font-size:14px;font-weight:bold;color:#181d1f;letter-spacing:-0.10px;left:495.3px;">AMZN</div>
<div class="t" style="top:3082.3px;line-height:20px;font-size:14px;color:#181d1f;letter-spacing:0.50px;left:645.3px;">1</div>
<div class="t" style="top:3082.3px;line-height:20px;font-size:14px;color:#181d1f;letter-spacing:1.00px;left:755.3px;">$265.00</div>
<div class="t" style="top:3082.3px;line-height:20px;font-size:14px;font-weight:bold;color:#16a34a;letter-spacing:0.50px;left:855.3px;">$1,417.00</div>
<div class="t" style="top:3082.3px;line-height:20px;font-size:14px;font-weight:bold;color:#181d1f;letter-spacing:0.80px;left:975.3px;">$26,500.00</div>
<div class="t" style="top:3082.3px;line-height:20px;font-size:14px;color:#181d1f;letter-spacing:0.80px;left:1125.3px;">5.35%</div>
<div class="t" style="top:3082.3px;line-height:20px;font-size:14px;font-weight:bold;color:#16a34a;letter-spacing:0.70px;left:1225.3px;">84.86%</div>
<div class="t" style="top:3082.3px;line-height:20px;font-size:14px;color:#6b7280;letter-spacing:0.30px;left:1375.3px;">47</div>
<div style="position:absolute;left:297.0px;top:3153.8px;width:1151.0px;height:1.0px;background:#dde2eb;"></div>
<svg style="position:absolute;left:304.0px;top:3123.9px;" width="18" height="18" viewBox="0 0 18 18"><circle cx="9" cy="9" r="7.200" fill="none" stroke="#1f2937" stroke-width="1.500"/><path d="M9 1.800v3.200M9 13v3.200M1.800 9h3.200M13 9h3.200" stroke="#1f2937" stroke-width="1.500"/></svg>
<div class="t" style="top:3124.3px;line-height:20px;font-size:14px;color:#181d1f;letter-spacing:0.22px;left:345.2px;">Jan 16, 2026</div>
<div class="t" style="top:3124.3px;line-height:20px;font-size:14px;font-weight:bold;color:#181d1f;letter-spacing:-0.10px;left:495.3px;">INTC</div>
<div class="t" style="top:3124.3px;line-height:20px;font-size:14px;color:#181d1f;letter-spacing:0.50px;left:645.3px;">4</div>
<div class="t" style="top:3124.3px;line-height:20px;font-size:14px;color:#181d1f;letter-spacing:1.00px;left:755.3px;">$36.00</div>
<div class="t" style="top:3124.3px;line-height:20px;font-size:14px;font-weight:bold;color:#16a34a;letter-spacing:0.50px;left:855.3px;">$520.00</div>
<div class="t" style="top:3124.3px;line-height:20px;font-size:14px;font-weight:bold;color:#181d1f;letter-spacing:0.80px;left:975.3px;">$14,400.00</div>
<div class="t" style="top:3124.3px;line-height:20px;font-size:14px;color:#181d1f;letter-spacing:0.80px;left:1125.3px;">3.61%</div>
<div class="t" style="top:3124.3px;line-height:20px;font-size:14px;font-weight:bold;color:#16a34a;letter-spacing:0.70px;left:1225.3px;">82.38%</div>
<div class="t" style="top:3124.3px;line-height:20px;font-size:14px;color:#6b7280;letter-spacing:0.30px;left:1375.3px;">47</div>
<div style="position:absolute;left:1842.9px;top:2686.0px;width:35.3px;height:595.0px;background:#f9fafb;border-left:1px solid #bcc5d3;box-sizing:border-box;"></div>
<svg style="position:absolute;left:1854.2px;top:2711.4px;" width="14" height="14" viewBox="0 0 14 14"><rect x="1" y="1" width="12" height="12" rx="1.800" fill="none" stroke="#181d1f" stroke-width="1.500"/><path d="M1 5h12M5 5v8" stroke="#181d1f" stroke-width="1.500"/></svg>
<div style="position:absolute;left:1849.9px;top:2733.4px;width:20.0px;height:54.0px;"><div class="t" style="left:10px;top:0;transform-origin:0 0;transform:rotate(90deg) translateY(-50%);font-size:14px;line-height:20px;letter-spacing:-0.15px;color:#181d1f;margin-top:0">Columns</div></div>
<svg style="position:absolute;left:1854.2px;top:2839.9px;" width="14" height="11" viewBox="0 0 14 11"><path d="M1 1.500h12M3.500 5.500h7M5.500 9.500h3" stroke="#181d1f" stroke-width="1.600"/></svg>
<div style="position:absolute;left:1849.9px;top:2860.4px;width:20.0px;height:40.0px;"><div class="t" style="left:10px;top:0;transform-origin:0 0;transform:rotate(90deg) translateY(-50%);font-size:14px;line-height:20px;letter-spacing:-0.3px;color:#181d1f">Filters</div></div>
<div style="position:absolute;left:297.0px;top:3280.5px;width:1582.0px;height:1.0px;background:#bcc5d3;"></div>
<div class="t" style="top:3294.0px;line-height:20px;font-size:14px;color:#181d1f;letter-spacing:0.13px;left:861.0px;">Page Size:</div>
<div style="position:absolute;left:939.0px;top:3287.3px;width:50.5px;height:31.0px;border:1px solid #bcc5d3;border-radius:4px;box-sizing:border-box;background:#fff;"></div>
<div class="t" style="top:3294.0px;line-height:20px;font-size:14px;color:#181d1f;letter-spacing:0.71px;left:948.0px;">20</div>
<svg style="position:absolute;left:970.0px;top:3301.0px;" width="10" height="6" viewBox="0 0 10 6"><path d="M0.500 0.500h8l-4 5z" fill="#181d1f"/></svg>
<div class="t" style="top:3294.0px;line-height:20px;font-size:14px;color:#181d1f;letter-spacing:-0.10px;left:1022.0px;"><b>1</b> to <b>10</b> of <b>10</b></div>
<svg style="position:absolute;left:1134.0px;top:3298.0px;" width="11" height="12" viewBox="0 0 11 12"><path d="M1.500 1.500v9M9.500 1.500L5 6l4.500 4.500" stroke="#c3c7cd" stroke-width="1.300" fill="none"/></svg>
<svg style="position:absolute;left:1163.5px;top:3298.0px;" width="8" height="12" viewBox="0 0 8 12"><path d="M6.500 1.500L2 6l4.500 4.500" stroke="#c3c7cd" stroke-width="1.300" fill="none"/></svg>
<div class="t" style="top:3294.0px;line-height:20px;font-size:14px;color:#181d1f;letter-spacing:-0.10px;left:1188.2px;">Page <b>1</b> of <b>1</b></div>
<svg style="position:absolute;left:1274.5px;top:3298.0px;" width="8" height="12" viewBox="0 0 8 12"><path d="M1.500 1.500L6 6l-4.500 4.500" stroke="#c3c7cd" stroke-width="1.300" fill="none"/></svg>
<svg style="position:absolute;left:1301.5px;top:3298.0px;" width="11" height="12" viewBox="0 0 11 12"><path d="M9.500 1.500v9M1.500 1.500L6 6l-4.500 4.500" stroke="#c3c7cd" stroke-width="1.300" fill="none"/></svg>
<div style="position:absolute;left:272.0px;top:3373.0px;width:804.0px;height:694.0px;background:#fff;border-radius:8px;box-shadow:0 1px 3px rgba(0,0,0,.09),0 1px 2px rgba(0,0,0,.05);"></div>
<div style="position:absolute;left:1100.0px;top:3373.0px;width:804.0px;height:694.0px;background:#fff;border-radius:8px;box-shadow:0 1px 3px rgba(0,0,0,.09),0 1px 2px rgba(0,0,0,.05);"></div>
<div class="t" style="top:3398.0px;line-height:28px;font-size:18px;font-weight:bold;letter-spacing:0.12px;left:296.0px;">Capital Reserved by Ticker</div>
<div class="t" style="top:3398.0px;line-height:28px;font-size:18px;font-weight:bold;letter-spacing:0.08px;left:1124.4px;">Capital Release Schedule</div>
<div style="position:absolute;left:952.1px;top:3397.1px;width:99.9px;height:29.6px;border:1px solid #d1d5db;border-radius:8.500px;box-sizing:border-box;background:#fff;"></div>
<svg style="position:absolute;left:966.0px;top:3405.1px;" width="14" height="14" viewBox="0 0 14 14"><g fill="none" stroke="#374151" stroke-width="1.300"><rect x="0.700" y="5.900" width="4.200" height="7.400" rx="1.200"/><rect x="4.900" y="3.100" width="4.200" height="10.200" rx="1.200"/><rect x="9.100" y="0.700" width="4.200" height="12.600" rx="1.200"/></g></svg>
<div class="t" style="top:3402.0px;line-height:20px;font-size:12px;color:#374151;letter-spacing:0.18px;left:985.6px;-webkit-text-stroke:0.25px #374151;">Bar Chart</div>
<div style="position:absolute;left:1783.3px;top:3397.1px;width:96.6px;height:29.6px;border:1px solid #d1d5db;border-radius:8.500px;box-sizing:border-box;background:#fff;"></div>
<svg style="position:absolute;left:1797.1px;top:3405.1px;" width="14" height="14" viewBox="0 0 14 14"><rect x="0.800" y="0.800" width="12.400" height="12.400" fill="#c9cdd4"/><g fill="#fff" stroke="#4b5563" stroke-width="1.500"><rect x="0.800" y="0.800" width="4.900" height="4.900"/><rect x="8.300" y="0.800" width="4.900" height="4.900"/><rect x="0.800" y="8.300" width="4.900" height="4.900"/><rect x="8.300" y="8.300" width="4.900" height="4.900"/></g></svg>
<div class="t" style="top:3402.0px;line-height:20px;font-size:12px;color:#374151;letter-spacing:0.25px;left:1817.3px;-webkit-text-stroke:0.25px #374151;">Treemap</div>
<svg style="position:absolute;left:0;top:3380px" width="1920" height="703" viewBox="0 3380 1920 703"><rect x="372.4" y="3503" width="602.6" height="479.600" fill="#f8f9fa"/><text x="375.8" y="3521.8" font-size="12" text-anchor="start" fill="#111827" font-weight="bold">Capital Reserved</text><rect x="377.4" y="3533.9" width="343.0" height="322.5" fill="#35b848" stroke="#a6dcae" stroke-width="1.8"/><text x="548.9" y="3698.5" font-size="12" text-anchor="middle" fill="#fff" font-weight="bold">QQQ</text><rect x="377.4" y="3863.1" width="343.0" height="115.2" fill="#5db36a" stroke="#a6dcae" stroke-width="1.8"/><text x="548.9" y="3924.0" font-size="12" text-anchor="middle" fill="#fff" font-weight="bold">MSFT</text><rect x="726.9" y="3533.9" width="148.8" height="263.6" fill="#5fb36c" stroke="#a6dcae" stroke-width="1.8"/><text x="801.3" y="3669.0" font-size="12" text-anchor="middle" fill="#fff" font-weight="bold">AMD</text><rect x="882.4" y="3533.9" width="89.0" height="263.6" fill="#62b36f" stroke="#a6dcae" stroke-width="1.8"/><text x="926.9" y="3669.0" font-size="12" text-anchor="middle" fill="#fff" font-weight="bold">AMZN</text><rect x="726.9" y="3804.1" width="117.6" height="107.0" fill="#67b373" stroke="#a6dcae" stroke-width="1.8"/><text x="785.7" y="3860.9" font-size="12" text-anchor="middle" fill="#fff" font-weight="bold">INTC</text><rect x="726.9" y="3917.2" width="117.6" height="61.1" fill="#6ab476" stroke="#a6dcae" stroke-width="1.8"/><text x="785.7" y="3951.1" font-size="12" text-anchor="middle" fill="#fff" font-weight="bold">TGT</text><rect x="851.2" y="3804.1" width="59.9" height="114.8" fill="#69b475" stroke="#a6dcae" stroke-width="1.8"/><text x="881.1" y="3864.8" font-size="12" text-anchor="middle" fill="#fff" font-weight="bold">UBER</text><rect x="917.1" y="3804.1" width="54.3" height="114.8" fill="#6ab476" stroke="#a6dcae" stroke-width="1.8"/><text x="944.2" y="3864.8" font-size="12" text-anchor="middle" fill="#fff" font-weight="bold">F</text><rect x="851.2" y="3924.9" width="78.6" height="53.4" fill="#6bb577" stroke="#a6dcae" stroke-width="1.8"/><text x="890.5" y="3954.9" font-size="12" text-anchor="middle" fill="#fff" font-weight="bold">RIVN</text><rect x="936.5" y="3924.9" width="34.9" height="53.4" fill="#6cb578" stroke="#a6dcae" stroke-width="1.8"/><text x="954.0" y="3954.9" font-size="12" text-anchor="middle" fill="#fff" font-weight="bold">SOF</text><path d="M318.3 4001.5H999.4" stroke="#4b5563" stroke-width="1"/><rect x="620" y="4021" width="108.200" height="21.500" fill="#4d4d4d"/><text x="674.1" y="4036.3" font-size="12" text-anchor="middle" fill="#fff" letter-spacing="0.3">Capital Reserved</text><text x="674.0" y="3457.9" font-size="12" text-anchor="middle" fill="#4d4d4d" font-weight="bold" letter-spacing="0.14">Capital Reserved by Ticker</text><rect x="611" y="3468.200" width="25.500" height="13.800" rx="2.500" fill="#38a0da"/><text x="640.8" y="3479.3" font-size="12" text-anchor="start" fill="#404040" letter-spacing="0.3">Capital Reserved</text><text x="1189.5" y="3985.1" font-size="12" text-anchor="end" fill="#404040" letter-spacing="0.44">0</text><path d="M1198.0 3883.1H1827.0" stroke="#dadeed" stroke-width="1"/><text x="1189.5" y="3887.5" font-size="12" text-anchor="end" fill="#404040" letter-spacing="0.44">50,000</text><path d="M1198.0 3785.5H1827.0" stroke="#dadeed" stroke-width="1"/><text x="1189.5" y="3789.8" font-size="12" text-anchor="end" fill="#404040" letter-spacing="0.44">100,000</text><path d="M1198.0 3687.8H1827.0" stroke="#dadeed" stroke-width="1"/><text x="1189.5" y="3692.1" font-size="12" text-anchor="end" fill="#404040" letter-spacing="0.44">150,000</text><path d="M1198.0 3590.2H1827.0" stroke="#dadeed" stroke-width="1"/><text x="1189.5" y="3594.5" font-size="12" text-anchor="end" fill="#404040" letter-spacing="0.44">200,000</text><path d="M1198.0 3492.5H1827.0" stroke="#dadeed" stroke-width="1"/><text x="1189.5" y="3496.8" font-size="12" text-anchor="end" fill="#404040" letter-spacing="0.44">250,000</text><rect x="1246.5" y="3519.5" width="217.1" height="461.3" fill="#38a0da"/><rect x="1561.4" y="3901.0" width="217.1" height="79.8" fill="#38a0da"/><path d="M1198.0 3980.8H1827.0" stroke="#4b5563" stroke-width="1"/><path d="M1198.0 3980.8v4.500" stroke="#4b5563" stroke-width="1"/><path d="M1512.5 3980.8v4.500" stroke="#4b5563" stroke-width="1"/><path d="M1827.0 3980.8v4.500" stroke="#4b5563" stroke-width="1"/><text x="1355.4" y="3998.3" font-size="12" text-anchor="middle" fill="#404040" letter-spacing="0.3">Dec 19</text><text x="1669.6" y="3998.3" font-size="12" text-anchor="middle" fill="#404040" letter-spacing="0.3">Jan 16</text><text x="1501.7" y="3457.9" font-size="12" text-anchor="middle" fill="#4d4d4d" font-weight="bold" letter-spacing="0.1">Capital Release Schedule</text><rect x="1438" y="3468.200" width="25.500" height="13.800" rx="2.500" fill="#38a0da"/><text x="1468.4" y="3479.3" font-size="12" text-anchor="start" fill="#404040" letter-spacing="0.18">Capital Releasing</text></svg>
<div style="position:absolute;left:1896.0px;top:4073.8px;width:40.0px;height:30.0px;background:#8fa0e8;border-radius:9px;"></div>
<div style="position:absolute;left:1902.0px;top:4081.2px;width:12.0px;height:6.0px;background:#fff;border-radius:1px;"></div>
</body></html>
